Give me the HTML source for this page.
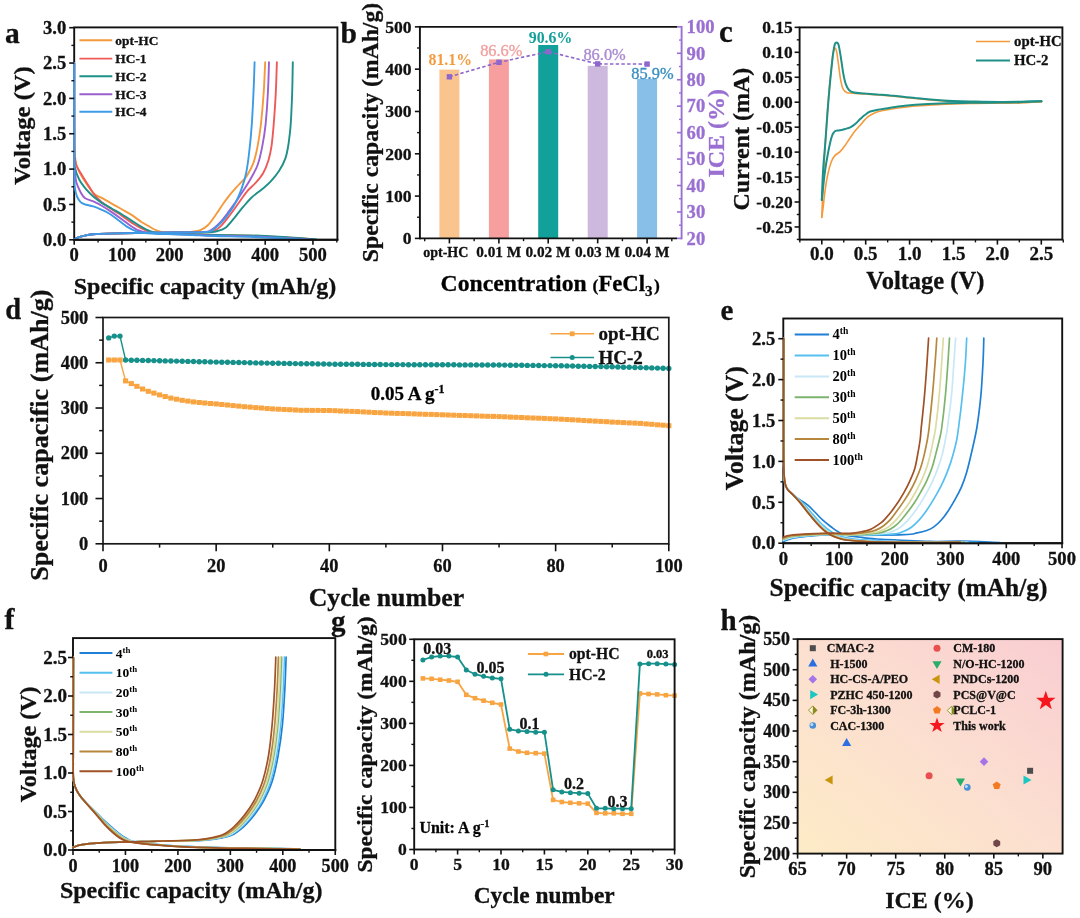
<!DOCTYPE html>
<html><head><meta charset="utf-8"><title>Figure</title>
<style>html,body{margin:0;padding:0;background:#fff;overflow:hidden}svg{display:block}</style></head>
<body>
<svg width="1080" height="918" viewBox="0 0 1080 918" font-family='"Liberation Serif", "DejaVu Serif", serif' font-weight="bold">
<rect width="1080" height="918" fill="#fff"/>
<g id="pa">
<clipPath id="ca"><rect x="72.2" y="27.4" width="264.2" height="213.0"/></clipPath>
<rect x="74.20" y="27.40" width="263.20" height="212.40" fill="none" stroke="#111" stroke-width="1.9"/>
<g clip-path="url(#ca)">
<path d="M74.2,63.0 C74.2,74.9 74.2,118.3 74.3,134.2 C74.5,150.0 74.7,152.8 75.2,158.2 C75.6,163.7 75.9,163.7 77.0,166.7 C78.2,169.8 79.3,172.3 82.0,176.7 C84.7,181.0 90.0,189.4 93.3,192.9 C96.6,196.5 98.8,196.1 101.8,197.9 C104.9,199.7 108.4,201.7 111.7,203.6 C115.0,205.5 118.4,207.3 121.7,209.2 C125.0,211.1 128.3,212.8 131.6,214.9 C134.9,217.0 138.4,220.0 141.5,222.0 C144.6,224.0 147.2,225.4 150.0,226.9 C152.8,228.5 155.7,230.2 158.5,231.2 C161.3,232.2 164.2,232.5 167.0,232.9 C169.8,233.3 171.2,233.2 175.5,233.5 C179.7,233.7 185.9,233.9 192.5,234.2 C199.1,234.4 205.4,234.8 215.0,235.0 C224.6,235.3 237.5,235.2 250.0,235.6 C262.5,236.0 279.5,237.0 290.0,237.6 C300.5,238.2 309.2,238.9 313.0,239.2" fill="none" stroke="#F59A3C" stroke-width="1.9" stroke-linejoin="round" stroke-linecap="round" />
<path d="M74.4,239.2 C75.2,238.8 77.1,237.8 79.0,237.1 C80.9,236.4 83.7,235.8 86.0,235.3 C88.3,234.8 89.5,234.6 93.0,234.3 C96.5,234.0 99.8,233.8 107.0,233.6 C114.2,233.4 124.2,233.2 136.0,233.0 C147.8,232.8 168.7,232.7 178.0,232.5 C187.3,232.3 188.1,232.1 191.9,231.7 C195.6,231.3 197.7,231.3 200.4,230.2 C203.0,229.1 205.3,227.7 207.8,225.3 C210.3,222.9 212.6,219.5 215.2,215.7 C217.9,212.0 221.3,206.5 223.7,203.0 C226.2,199.5 228.0,197.2 230.1,194.5 C232.2,191.8 234.6,189.2 236.5,187.1 C238.4,184.9 240.0,183.7 241.8,181.7 C243.6,179.8 245.2,178.6 247.1,175.4 C249.1,172.2 251.7,167.6 253.5,162.6 C255.3,157.7 256.5,152.0 257.7,145.6 C259.0,139.2 259.9,133.2 260.9,124.4 C261.9,115.5 263.0,102.8 263.7,92.5 C264.4,82.2 264.9,67.4 265.2,62.3" fill="none" stroke="#F59A3C" stroke-width="1.9" stroke-linejoin="round" stroke-linecap="round" />
<path d="M74.2,63.0 C74.2,77.2 74.2,132.5 74.3,148.3 C74.5,164.2 74.5,155.3 74.9,158.2 C75.3,161.2 75.4,163.2 76.6,166.0 C77.8,168.9 79.9,171.8 82.0,175.2 C84.1,178.7 87.0,183.3 89.1,186.6 C91.2,189.9 92.6,192.5 94.7,195.1 C96.9,197.7 99.0,199.8 101.8,202.2 C104.7,204.5 108.4,207.0 111.7,209.2 C115.0,211.5 118.4,213.4 121.7,215.6 C125.0,217.9 128.3,220.6 131.6,222.7 C134.9,224.8 138.4,226.8 141.5,228.4 C144.6,229.9 147.2,231.1 150.0,231.9 C152.8,232.7 154.7,233.0 158.5,233.3 C162.3,233.6 167.0,233.7 172.6,233.9 C178.3,234.1 185.4,234.2 192.5,234.4 C199.5,234.7 205.4,235.2 215.0,235.4 C224.6,235.7 237.5,235.6 250.0,236.0 C262.5,236.4 279.7,237.4 290.0,238.0 C300.3,238.6 308.3,239.1 312.0,239.3" fill="none" stroke="#EE5A5A" stroke-width="1.9" stroke-linejoin="round" stroke-linecap="round" />
<path d="M74.4,239.2 C75.2,238.8 77.1,237.8 79.0,237.1 C80.9,236.4 83.7,235.8 86.0,235.3 C88.3,234.8 89.5,234.6 93.0,234.3 C96.5,234.0 99.8,233.8 107.0,233.6 C114.2,233.4 124.2,233.2 136.0,233.0 C147.8,232.8 165.9,232.7 178.0,232.5 C190.1,232.3 202.7,232.3 208.9,231.9 C215.1,231.5 213.1,231.3 215.2,230.2 C217.4,229.1 219.1,227.9 221.6,225.3 C224.1,222.7 227.3,218.4 230.1,214.7 C233.0,211.0 235.8,206.9 238.6,203.0 C241.5,199.1 244.3,194.7 247.1,191.3 C250.0,187.9 253.0,185.8 255.6,182.8 C258.3,179.8 260.9,177.0 263.1,173.2 C265.2,169.5 267.0,165.1 268.4,160.5 C269.8,155.9 270.7,151.6 271.6,145.6 C272.4,139.6 273.0,133.2 273.7,124.4 C274.4,115.5 275.3,102.8 275.8,92.5 C276.3,82.2 276.7,67.4 276.9,62.3" fill="none" stroke="#EE5A5A" stroke-width="1.9" stroke-linejoin="round" stroke-linecap="round" />
<path d="M74.2,63.0 C74.2,78.4 74.2,138.0 74.3,155.4 C74.5,172.8 74.1,163.4 74.9,167.5 C75.7,171.5 77.3,175.8 79.2,179.5 C81.1,183.1 83.9,186.6 86.2,189.4 C88.6,192.2 90.7,194.2 93.3,196.5 C95.9,198.7 98.8,200.9 101.8,202.9 C104.9,204.9 108.4,206.6 111.7,208.5 C115.0,210.4 118.4,212.2 121.7,214.2 C125.0,216.2 128.3,218.4 131.6,220.6 C134.9,222.7 138.4,225.2 141.5,226.9 C144.6,228.7 147.2,230.2 150.0,231.2 C152.8,232.2 155.2,232.6 158.5,233.0 C161.8,233.4 164.2,233.4 169.8,233.6 C175.5,233.8 184.9,233.9 192.5,234.2 C200.0,234.4 205.4,234.8 215.0,235.0 C224.6,235.2 237.5,235.0 250.0,235.4 C262.5,235.8 279.0,236.8 290.0,237.4 C301.0,238.1 311.7,239.0 316.0,239.3" fill="none" stroke="#1E9088" stroke-width="1.9" stroke-linejoin="round" stroke-linecap="round" />
<path d="M74.4,239.2 C75.2,238.8 77.1,237.8 79.0,237.1 C80.9,236.4 83.7,235.8 86.0,235.3 C88.3,234.8 89.5,234.6 93.0,234.3 C96.5,234.0 99.8,233.8 107.0,233.6 C114.2,233.4 124.2,233.2 136.0,233.0 C147.8,232.8 165.5,232.6 178.0,232.5 C190.5,232.4 204.4,232.4 211.0,232.1 C217.6,231.9 214.9,231.8 217.4,231.0 C219.9,230.3 223.0,229.6 225.9,227.4 C228.7,225.2 231.5,221.2 234.4,217.9 C237.2,214.5 240.0,210.6 242.9,207.2 C245.7,203.9 248.2,200.7 251.4,197.7 C254.6,194.7 258.8,191.8 262.0,189.2 C265.2,186.5 267.7,184.8 270.5,181.7 C273.3,178.7 276.5,175.0 279.0,171.1 C281.5,167.2 283.8,163.0 285.4,158.4 C287.0,153.8 287.7,149.2 288.6,143.5 C289.4,137.8 290.1,132.9 290.7,124.4 C291.3,115.9 291.8,102.8 292.2,92.5 C292.5,82.2 292.7,67.4 292.8,62.3" fill="none" stroke="#1E9088" stroke-width="1.9" stroke-linejoin="round" stroke-linecap="round" />
<path d="M74.2,63.0 C74.2,79.6 74.2,144.5 74.3,162.5 C74.5,180.5 74.6,167.7 74.9,171.0 C75.2,174.3 75.4,178.8 76.3,182.3 C77.3,185.9 79.2,189.6 80.6,192.2 C82.0,194.8 82.7,196.4 84.8,197.9 C87.0,199.4 90.5,200.1 93.3,201.4 C96.2,202.7 98.8,203.9 101.8,205.7 C104.9,207.5 108.4,209.8 111.7,212.1 C115.0,214.3 118.6,216.9 121.7,219.2 C124.7,221.4 127.3,223.6 130.2,225.5 C133.0,227.4 135.8,229.3 138.7,230.5 C141.5,231.7 143.8,232.1 147.2,232.6 C150.5,233.1 154.2,233.2 158.5,233.5 C162.7,233.7 167.0,233.8 172.6,234.0 C178.3,234.2 185.4,234.4 192.5,234.7 C199.5,235.0 205.4,235.4 215.0,235.7 C224.6,236.0 237.5,236.0 250.0,236.4 C262.5,236.8 280.0,237.8 290.0,238.3 C300.0,238.8 306.7,239.2 310.0,239.4" fill="none" stroke="#9B5FD0" stroke-width="1.9" stroke-linejoin="round" stroke-linecap="round" />
<path d="M74.4,239.2 C75.2,238.8 77.1,237.8 79.0,237.1 C80.9,236.4 83.7,235.8 86.0,235.3 C88.3,234.8 89.5,234.6 93.0,234.3 C96.5,234.0 99.8,233.8 107.0,233.6 C114.2,233.4 124.2,233.2 136.0,233.0 C147.8,232.8 166.6,232.7 178.0,232.5 C189.4,232.3 199.1,232.3 204.6,231.9 C210.1,231.5 208.5,231.6 211.0,230.2 C213.5,228.7 216.7,226.1 219.5,223.2 C222.3,220.2 225.2,216.3 228.0,212.6 C230.8,208.8 233.7,204.9 236.5,200.9 C239.3,196.8 242.5,192.0 245.0,188.1 C247.5,184.2 249.2,181.4 251.4,177.5 C253.5,173.6 255.9,170.1 257.7,164.7 C259.6,159.4 261.1,152.4 262.4,145.6 C263.7,138.9 264.7,133.2 265.6,124.4 C266.5,115.5 267.4,102.8 267.9,92.5 C268.5,82.2 268.8,67.4 269.0,62.3" fill="none" stroke="#9B5FD0" stroke-width="1.9" stroke-linejoin="round" stroke-linecap="round" />
<path d="M74.2,63.0 C74.2,81.5 74.2,153.0 74.3,173.8 C74.5,194.7 74.5,184.2 74.9,188.0 C75.4,191.8 76.1,194.1 77.0,196.5 C78.0,198.8 79.3,200.9 80.6,202.2 C81.9,203.5 82.7,203.6 84.8,204.3 C87.0,205.0 90.5,205.5 93.3,206.4 C96.2,207.3 99.0,208.6 101.8,209.9 C104.7,211.2 107.5,212.4 110.3,214.2 C113.2,216.0 116.0,218.4 118.8,220.6 C121.7,222.7 124.5,225.2 127.3,226.9 C130.2,228.7 133.0,230.2 135.8,231.2 C138.7,232.2 141.0,232.6 144.3,233.0 C147.6,233.5 150.9,233.5 155.7,233.7 C160.4,234.0 166.5,234.1 172.6,234.3 C178.8,234.5 185.4,234.7 192.5,235.0 C199.5,235.3 205.4,235.7 215.0,236.0 C224.6,236.3 237.5,236.4 250.0,236.8 C262.5,237.2 280.7,238.2 290.0,238.6 C299.3,239.0 303.3,239.3 306.0,239.4" fill="none" stroke="#3C9BE6" stroke-width="1.9" stroke-linejoin="round" stroke-linecap="round" />
<path d="M74.4,239.2 C75.2,238.8 77.1,237.8 79.0,237.1 C80.9,236.4 83.7,235.8 86.0,235.3 C88.3,234.8 89.5,234.6 93.0,234.3 C96.5,234.0 99.8,233.8 107.0,233.6 C114.2,233.4 124.2,233.2 136.0,233.0 C147.8,232.8 166.2,232.7 178.0,232.5 C189.8,232.3 200.9,232.4 206.7,231.9 C212.6,231.4 210.6,231.2 213.1,229.6 C215.6,227.9 218.8,225.1 221.6,222.1 C224.5,219.1 227.6,215.0 230.1,211.5 C232.6,208.0 234.6,204.8 236.5,200.9 C238.4,197.0 240.2,192.7 241.8,188.1 C243.4,183.5 244.8,179.3 246.1,173.2 C247.3,167.2 248.3,160.1 249.2,152.0 C250.2,143.9 251.1,134.3 251.8,124.4 C252.5,114.5 253.0,102.8 253.5,92.5 C254.0,82.2 254.4,67.4 254.6,62.3" fill="none" stroke="#3C9BE6" stroke-width="1.9" stroke-linejoin="round" stroke-linecap="round" />
</g>
<line x1="73.25" y1="239.80" x2="338.35" y2="239.80" stroke="#111" stroke-width="1.9"/>
<line x1="74.20" y1="239.80" x2="74.20" y2="244.80" stroke="#111" stroke-width="1.6"/>
<text x="74.2" y="261.1" font-size="18.6" text-anchor="middle" fill="#111" font-weight="bold" stroke="#111" stroke-width="0.3" >0</text>
<line x1="121.95" y1="239.80" x2="121.95" y2="244.80" stroke="#111" stroke-width="1.6"/>
<text x="122.0" y="261.1" font-size="18.6" text-anchor="middle" fill="#111" font-weight="bold" stroke="#111" stroke-width="0.3" >100</text>
<line x1="169.70" y1="239.80" x2="169.70" y2="244.80" stroke="#111" stroke-width="1.6"/>
<text x="169.7" y="261.1" font-size="18.6" text-anchor="middle" fill="#111" font-weight="bold" stroke="#111" stroke-width="0.3" >200</text>
<line x1="217.45" y1="239.80" x2="217.45" y2="244.80" stroke="#111" stroke-width="1.6"/>
<text x="217.4" y="261.1" font-size="18.6" text-anchor="middle" fill="#111" font-weight="bold" stroke="#111" stroke-width="0.3" >300</text>
<line x1="265.20" y1="239.80" x2="265.20" y2="244.80" stroke="#111" stroke-width="1.6"/>
<text x="265.2" y="261.1" font-size="18.6" text-anchor="middle" fill="#111" font-weight="bold" stroke="#111" stroke-width="0.3" >400</text>
<line x1="312.95" y1="239.80" x2="312.95" y2="244.80" stroke="#111" stroke-width="1.6"/>
<text x="312.9" y="261.1" font-size="18.6" text-anchor="middle" fill="#111" font-weight="bold" stroke="#111" stroke-width="0.3" >500</text>
<line x1="98.08" y1="239.80" x2="98.08" y2="242.60" stroke="#111" stroke-width="1.4"/>
<line x1="145.82" y1="239.80" x2="145.82" y2="242.60" stroke="#111" stroke-width="1.4"/>
<line x1="193.57" y1="239.80" x2="193.57" y2="242.60" stroke="#111" stroke-width="1.4"/>
<line x1="241.32" y1="239.80" x2="241.32" y2="242.60" stroke="#111" stroke-width="1.4"/>
<line x1="289.07" y1="239.80" x2="289.07" y2="242.60" stroke="#111" stroke-width="1.4"/>
<line x1="336.82" y1="239.80" x2="336.82" y2="242.60" stroke="#111" stroke-width="1.4"/>
<line x1="74.20" y1="239.80" x2="69.20" y2="239.80" stroke="#111" stroke-width="1.6"/>
<text x="66.2" y="246.0" font-size="18.6" text-anchor="end" fill="#111" font-weight="bold" stroke="#111" stroke-width="0.3" >0.0</text>
<line x1="74.20" y1="204.45" x2="69.20" y2="204.45" stroke="#111" stroke-width="1.6"/>
<text x="66.2" y="210.7" font-size="18.6" text-anchor="end" fill="#111" font-weight="bold" stroke="#111" stroke-width="0.3" >0.5</text>
<line x1="74.20" y1="169.10" x2="69.20" y2="169.10" stroke="#111" stroke-width="1.6"/>
<text x="66.2" y="175.3" font-size="18.6" text-anchor="end" fill="#111" font-weight="bold" stroke="#111" stroke-width="0.3" >1.0</text>
<line x1="74.20" y1="133.75" x2="69.20" y2="133.75" stroke="#111" stroke-width="1.6"/>
<text x="66.2" y="140.0" font-size="18.6" text-anchor="end" fill="#111" font-weight="bold" stroke="#111" stroke-width="0.3" >1.5</text>
<line x1="74.20" y1="98.40" x2="69.20" y2="98.40" stroke="#111" stroke-width="1.6"/>
<text x="66.2" y="104.6" font-size="18.6" text-anchor="end" fill="#111" font-weight="bold" stroke="#111" stroke-width="0.3" >2.0</text>
<line x1="74.20" y1="63.05" x2="69.20" y2="63.05" stroke="#111" stroke-width="1.6"/>
<text x="66.2" y="69.3" font-size="18.6" text-anchor="end" fill="#111" font-weight="bold" stroke="#111" stroke-width="0.3" >2.5</text>
<line x1="74.20" y1="27.70" x2="69.20" y2="27.70" stroke="#111" stroke-width="1.6"/>
<text x="66.2" y="33.9" font-size="18.6" text-anchor="end" fill="#111" font-weight="bold" stroke="#111" stroke-width="0.3" >3.0</text>
<line x1="74.20" y1="222.12" x2="71.40" y2="222.12" stroke="#111" stroke-width="1.4"/>
<line x1="74.20" y1="186.78" x2="71.40" y2="186.78" stroke="#111" stroke-width="1.4"/>
<line x1="74.20" y1="151.43" x2="71.40" y2="151.43" stroke="#111" stroke-width="1.4"/>
<line x1="74.20" y1="116.08" x2="71.40" y2="116.08" stroke="#111" stroke-width="1.4"/>
<line x1="74.20" y1="80.72" x2="71.40" y2="80.72" stroke="#111" stroke-width="1.4"/>
<line x1="74.20" y1="45.38" x2="71.40" y2="45.38" stroke="#111" stroke-width="1.4"/>
<text x="205.0" y="294.0" font-size="24" text-anchor="middle" fill="#111" font-weight="bold" stroke="#111" stroke-width="0.3" >Specific capacity (mAh/g)</text>
<text transform="translate(29.5,125.5) rotate(-90) scale(1.0638,1)" font-size="23.12" text-anchor="middle" fill="#111" font-weight="bold" stroke="#111" stroke-width="0.3">Voltage (V)</text>
<text x="5.0" y="43.0" font-size="29.5" text-anchor="start" fill="#111" font-weight="bold" stroke="#111" stroke-width="0.3" >a</text>
<line x1="79.40" y1="40.20" x2="112.30" y2="40.20" stroke="#F59A3C" stroke-width="1.9"/>
<text x="115.3" y="44.6" font-size="13.4" text-anchor="start" fill="#111" font-weight="bold" stroke="#111" stroke-width="0.3" >opt-HC</text>
<line x1="79.40" y1="58.60" x2="112.30" y2="58.60" stroke="#EE5A5A" stroke-width="1.9"/>
<text x="115.3" y="63.0" font-size="13.4" text-anchor="start" fill="#111" font-weight="bold" stroke="#111" stroke-width="0.3" >HC-1</text>
<line x1="79.40" y1="76.30" x2="112.30" y2="76.30" stroke="#1E9088" stroke-width="1.9"/>
<text x="115.3" y="80.7" font-size="13.4" text-anchor="start" fill="#111" font-weight="bold" stroke="#111" stroke-width="0.3" >HC-2</text>
<line x1="79.40" y1="94.20" x2="112.30" y2="94.20" stroke="#9B5FD0" stroke-width="1.9"/>
<text x="115.3" y="98.6" font-size="13.4" text-anchor="start" fill="#111" font-weight="bold" stroke="#111" stroke-width="0.3" >HC-3</text>
<line x1="79.40" y1="111.80" x2="112.30" y2="111.80" stroke="#3C9BE6" stroke-width="1.9"/>
<text x="115.3" y="116.2" font-size="13.4" text-anchor="start" fill="#111" font-weight="bold" stroke="#111" stroke-width="0.3" >HC-4</text>
</g>
<g id="pb">
<rect x="439.4" y="69.6" width="20" height="168.8" fill="#FAC48E"/>
<rect x="488.9" y="59.4" width="20" height="179.0" fill="#F79E9E"/>
<rect x="538.2" y="45.0" width="20" height="193.4" fill="#12A19A"/>
<rect x="587.7" y="65.8" width="20" height="172.6" fill="#CDB9DD"/>
<rect x="637.1" y="78.9" width="20" height="159.5" fill="#88BFE8"/>
<line x1="419.90" y1="25.90" x2="419.90" y2="239.35" stroke="#111" stroke-width="1.9"/>
<line x1="419.90" y1="26.85" x2="677.10" y2="26.85" stroke="#111" stroke-width="1.9"/>
<line x1="419.90" y1="238.40" x2="677.10" y2="238.40" stroke="#111" stroke-width="1.9"/>
<line x1="681.60" y1="25.90" x2="681.60" y2="239.35" stroke="#9A6FD2" stroke-width="1.9"/>
<polyline points="449.4,76.8 498.9,62.3 548.2,51.7 597.7,63.9 647.1,64.1" fill="none" stroke="#8F66CC" stroke-width="1.6" stroke-linejoin="round" stroke-dasharray="3.4,2.3"/>
<rect x="446.7" y="74.1" width="5.4" height="5.4" fill="#8F66CC"/>
<rect x="496.2" y="59.6" width="5.4" height="5.4" fill="#8F66CC"/>
<rect x="545.5" y="49.0" width="5.4" height="5.4" fill="#8F66CC"/>
<rect x="595.0" y="61.2" width="5.4" height="5.4" fill="#8F66CC"/>
<rect x="644.4" y="61.4" width="5.4" height="5.4" fill="#8F66CC"/>
<text x="450.3" y="64.9" font-size="15.8" text-anchor="middle" fill="#F59A3C" font-weight="bold" >81.1%</text>
<text x="501.3" y="55.6" font-size="16.4" text-anchor="middle" fill="#F2A0A0" font-weight="normal" stroke="#F2A0A0" stroke-width="0.35" >86.6%</text>
<text x="550.5" y="42.9" font-size="15.8" text-anchor="middle" fill="#12A19A" font-weight="bold" >90.6%</text>
<text x="604.6" y="59.9" font-size="16.4" text-anchor="middle" fill="#A98AD0" font-weight="normal" stroke="#A98AD0" stroke-width="0.35" >86.0%</text>
<text x="652.4" y="79.0" font-size="16.4" text-anchor="middle" fill="#3A8FC2" font-weight="normal" stroke="#3A8FC2" stroke-width="0.35" >85.9%</text>
<line x1="419.90" y1="238.40" x2="414.90" y2="238.40" stroke="#111" stroke-width="1.6"/>
<text x="411.6" y="244.3" font-size="17.6" text-anchor="end" fill="#111" font-weight="bold" stroke="#111" stroke-width="0.3" >0</text>
<line x1="419.90" y1="196.09" x2="414.90" y2="196.09" stroke="#111" stroke-width="1.6"/>
<text x="411.6" y="202.0" font-size="17.6" text-anchor="end" fill="#111" font-weight="bold" stroke="#111" stroke-width="0.3" >100</text>
<line x1="419.90" y1="153.78" x2="414.90" y2="153.78" stroke="#111" stroke-width="1.6"/>
<text x="411.6" y="159.7" font-size="17.6" text-anchor="end" fill="#111" font-weight="bold" stroke="#111" stroke-width="0.3" >200</text>
<line x1="419.90" y1="111.47" x2="414.90" y2="111.47" stroke="#111" stroke-width="1.6"/>
<text x="411.6" y="117.4" font-size="17.6" text-anchor="end" fill="#111" font-weight="bold" stroke="#111" stroke-width="0.3" >300</text>
<line x1="419.90" y1="69.16" x2="414.90" y2="69.16" stroke="#111" stroke-width="1.6"/>
<text x="411.6" y="75.1" font-size="17.6" text-anchor="end" fill="#111" font-weight="bold" stroke="#111" stroke-width="0.3" >400</text>
<line x1="419.90" y1="26.85" x2="414.90" y2="26.85" stroke="#111" stroke-width="1.6"/>
<text x="411.6" y="32.7" font-size="17.6" text-anchor="end" fill="#111" font-weight="bold" stroke="#111" stroke-width="0.3" >500</text>
<line x1="419.90" y1="217.25" x2="417.10" y2="217.25" stroke="#111" stroke-width="1.4"/>
<line x1="419.90" y1="174.94" x2="417.10" y2="174.94" stroke="#111" stroke-width="1.4"/>
<line x1="419.90" y1="132.62" x2="417.10" y2="132.62" stroke="#111" stroke-width="1.4"/>
<line x1="419.90" y1="90.31" x2="417.10" y2="90.31" stroke="#111" stroke-width="1.4"/>
<line x1="419.90" y1="48.00" x2="417.10" y2="48.00" stroke="#111" stroke-width="1.4"/>
<line x1="681.60" y1="238.40" x2="677.00" y2="238.40" stroke="#9A6FD2" stroke-width="1.6"/>
<text x="686.6" y="244.6" font-size="18.6" text-anchor="start" fill="#9A6FD2" font-weight="bold" stroke="#9A6FD2" stroke-width="0.3" >20</text>
<line x1="681.60" y1="211.96" x2="677.00" y2="211.96" stroke="#9A6FD2" stroke-width="1.6"/>
<text x="686.6" y="218.2" font-size="18.6" text-anchor="start" fill="#9A6FD2" font-weight="bold" stroke="#9A6FD2" stroke-width="0.3" >30</text>
<line x1="681.60" y1="185.51" x2="677.00" y2="185.51" stroke="#9A6FD2" stroke-width="1.6"/>
<text x="686.6" y="191.7" font-size="18.6" text-anchor="start" fill="#9A6FD2" font-weight="bold" stroke="#9A6FD2" stroke-width="0.3" >40</text>
<line x1="681.60" y1="159.07" x2="677.00" y2="159.07" stroke="#9A6FD2" stroke-width="1.6"/>
<text x="686.6" y="165.3" font-size="18.6" text-anchor="start" fill="#9A6FD2" font-weight="bold" stroke="#9A6FD2" stroke-width="0.3" >50</text>
<line x1="681.60" y1="132.62" x2="677.00" y2="132.62" stroke="#9A6FD2" stroke-width="1.6"/>
<text x="686.6" y="138.9" font-size="18.6" text-anchor="start" fill="#9A6FD2" font-weight="bold" stroke="#9A6FD2" stroke-width="0.3" >60</text>
<line x1="681.60" y1="106.18" x2="677.00" y2="106.18" stroke="#9A6FD2" stroke-width="1.6"/>
<text x="686.6" y="112.4" font-size="18.6" text-anchor="start" fill="#9A6FD2" font-weight="bold" stroke="#9A6FD2" stroke-width="0.3" >70</text>
<line x1="681.60" y1="79.74" x2="677.00" y2="79.74" stroke="#9A6FD2" stroke-width="1.6"/>
<text x="686.6" y="86.0" font-size="18.6" text-anchor="start" fill="#9A6FD2" font-weight="bold" stroke="#9A6FD2" stroke-width="0.3" >80</text>
<line x1="681.60" y1="53.29" x2="677.00" y2="53.29" stroke="#9A6FD2" stroke-width="1.6"/>
<text x="686.6" y="59.5" font-size="18.6" text-anchor="start" fill="#9A6FD2" font-weight="bold" stroke="#9A6FD2" stroke-width="0.3" >90</text>
<line x1="681.60" y1="26.85" x2="677.00" y2="26.85" stroke="#9A6FD2" stroke-width="1.6"/>
<text x="686.6" y="33.1" font-size="18.6" text-anchor="start" fill="#9A6FD2" font-weight="bold" stroke="#9A6FD2" stroke-width="0.3" >100</text>
<line x1="681.60" y1="225.18" x2="679.00" y2="225.18" stroke="#9A6FD2" stroke-width="1.4"/>
<line x1="681.60" y1="198.73" x2="679.00" y2="198.73" stroke="#9A6FD2" stroke-width="1.4"/>
<line x1="681.60" y1="172.29" x2="679.00" y2="172.29" stroke="#9A6FD2" stroke-width="1.4"/>
<line x1="681.60" y1="145.85" x2="679.00" y2="145.85" stroke="#9A6FD2" stroke-width="1.4"/>
<line x1="681.60" y1="119.40" x2="679.00" y2="119.40" stroke="#9A6FD2" stroke-width="1.4"/>
<line x1="681.60" y1="92.96" x2="679.00" y2="92.96" stroke="#9A6FD2" stroke-width="1.4"/>
<line x1="681.60" y1="66.52" x2="679.00" y2="66.52" stroke="#9A6FD2" stroke-width="1.4"/>
<line x1="681.60" y1="40.07" x2="679.00" y2="40.07" stroke="#9A6FD2" stroke-width="1.4"/>
<line x1="449.40" y1="238.40" x2="449.40" y2="243.40" stroke="#111" stroke-width="1.6"/>
<line x1="498.90" y1="238.40" x2="498.90" y2="243.40" stroke="#111" stroke-width="1.6"/>
<line x1="548.20" y1="238.40" x2="548.20" y2="243.40" stroke="#111" stroke-width="1.6"/>
<line x1="597.70" y1="238.40" x2="597.70" y2="243.40" stroke="#111" stroke-width="1.6"/>
<line x1="647.10" y1="238.40" x2="647.10" y2="243.40" stroke="#111" stroke-width="1.6"/>
<line x1="474.15" y1="238.40" x2="474.15" y2="241.20" stroke="#111" stroke-width="1.4"/>
<line x1="523.55" y1="238.40" x2="523.55" y2="241.20" stroke="#111" stroke-width="1.4"/>
<line x1="572.95" y1="238.40" x2="572.95" y2="241.20" stroke="#111" stroke-width="1.4"/>
<line x1="622.40" y1="238.40" x2="622.40" y2="241.20" stroke="#111" stroke-width="1.4"/>
<line x1="424.70" y1="238.40" x2="424.70" y2="241.20" stroke="#111" stroke-width="1.4"/>
<line x1="671.80" y1="238.40" x2="671.80" y2="241.20" stroke="#111" stroke-width="1.4"/>
<text x="445.8" y="256.7" font-size="14" text-anchor="middle" fill="#111" font-weight="bold" stroke="#111" stroke-width="0.3" >opt-HC</text>
<text x="498.7" y="257.0" font-size="15.3" text-anchor="middle" fill="#111" font-weight="bold" stroke="#111" stroke-width="0.3" >0.01 M</text>
<text x="548.0" y="257.0" font-size="15.3" text-anchor="middle" fill="#111" font-weight="bold" stroke="#111" stroke-width="0.3" >0.02 M</text>
<text x="597.5" y="257.0" font-size="15.3" text-anchor="middle" fill="#111" font-weight="bold" stroke="#111" stroke-width="0.3" >0.03 M</text>
<text x="646.9" y="257.0" font-size="15.3" text-anchor="middle" fill="#111" font-weight="bold" stroke="#111" stroke-width="0.3" >0.04 M</text>
<text x="440.6" y="290.7" font-size="23.7" stroke="#111" stroke-width="0.3">Concentration <tspan font-size="17.5">(</tspan><tspan font-size="22.7">FeCl</tspan><tspan font-size="15" dy="5.5">3</tspan><tspan font-size="17.5" dy="-5.5" dx="1.5">)</tspan></text>
<text transform="translate(377.6,132.5) rotate(-90) scale(1.0638,1)" font-size="22.28" text-anchor="middle" fill="#111" font-weight="bold" stroke="#111" stroke-width="0.3">Specific capacity (mAh/g)</text>
<text transform="translate(724.2,133.3) rotate(-90) scale(1.0638,1)" font-size="22.56" text-anchor="middle" fill="#9A6FD2" font-weight="bold" stroke="#9A6FD2" stroke-width="0.3">ICE (%)</text>
<text x="340.5" y="42.5" font-size="29.5" text-anchor="start" fill="#111" font-weight="bold" stroke="#111" stroke-width="0.3" >b</text>
</g>
<g id="pc">
<path d="M821.8,217.5 C822.0,213.0 822.4,200.8 822.8,190.5 C823.3,180.1 823.7,170.0 824.6,155.4 C825.5,140.7 826.9,118.2 828.1,102.7 C829.3,87.3 830.9,71.4 831.9,62.6 C832.8,53.8 833.3,52.5 833.9,50.1 C834.4,47.7 834.7,47.9 835.1,48.1 C835.6,48.3 836.0,48.5 836.6,51.3 C837.2,54.2 837.9,60.1 838.6,65.1 C839.3,70.1 840.1,77.3 840.9,81.4 C841.7,85.5 842.4,87.8 843.4,89.7 C844.4,91.6 845.2,92.1 847.2,92.7 C849.1,93.3 852.2,93.2 855.2,93.5 C858.2,93.7 861.4,93.7 865.2,94.0 C869.0,94.2 873.6,94.6 877.7,95.0 C881.9,95.3 886.1,95.6 890.3,96.0 C894.5,96.3 898.6,96.8 902.8,97.2 C907.0,97.6 911.2,98.0 915.3,98.5 C919.5,98.9 923.7,99.3 927.9,99.7 C932.1,100.1 936.2,100.4 940.4,100.7 C944.6,101.0 948.0,101.3 952.9,101.5 C957.9,101.7 966.3,101.9 970.0,102.0 C973.7,102.1 970.0,102.1 975.0,102.2 C980.0,102.3 992.5,102.4 1000.0,102.4 C1007.5,102.4 1013.1,102.3 1020.0,102.2 C1026.9,102.1 1037.9,101.9 1041.5,101.8" fill="none" stroke="#F59A3C" stroke-width="1.6" stroke-linejoin="round" stroke-linecap="round" />
<path d="M1041.5,101.8 C1037.9,102.0 1026.9,102.8 1020.0,103.0 C1013.1,103.2 1007.5,103.1 1000.0,103.2 C992.5,103.3 980.0,103.4 975.0,103.4 C970.0,103.4 975.8,103.3 970.0,103.5 C964.2,103.7 949.5,104.1 940.4,104.5 C931.3,104.9 923.7,105.2 915.3,106.0 C907.0,106.8 896.5,108.3 890.3,109.2 C884.0,110.2 881.1,110.7 877.7,111.8 C874.4,112.8 872.3,114.0 870.2,115.3 C868.1,116.5 866.9,117.6 865.2,119.3 C863.5,120.9 861.9,123.4 860.2,125.3 C858.5,127.2 856.9,128.7 855.2,130.8 C853.5,132.9 851.8,135.4 850.2,137.8 C848.5,140.2 846.8,143.0 845.2,145.3 C843.5,147.6 841.8,149.9 840.1,151.6 C838.5,153.3 836.6,153.7 835.1,155.4 C833.7,157.0 832.6,158.3 831.4,161.6 C830.1,165.0 828.6,170.6 827.6,175.4 C826.6,180.2 825.8,185.0 825.1,190.5 C824.3,195.9 823.6,203.5 823.1,208.0 C822.5,212.5 822.0,216.0 821.8,217.5" fill="none" stroke="#F59A3C" stroke-width="1.6" stroke-linejoin="round" stroke-linecap="round" />
<path d="M821.8,200.0 C822.0,195.1 822.5,179.5 823.1,170.4 C823.6,161.3 824.1,157.9 825.1,145.3 C826.1,132.8 827.6,109.8 828.9,95.2 C830.1,80.6 831.7,66.0 832.6,57.6 C833.6,49.2 834.0,47.6 834.6,45.1 C835.3,42.6 836.0,42.6 836.6,42.6 C837.3,42.6 837.9,42.6 838.6,45.1 C839.3,47.6 840.1,53.0 840.9,57.6 C841.6,62.2 842.4,68.3 843.1,72.6 C843.9,77.0 844.7,81.0 845.7,83.9 C846.7,86.9 847.8,88.8 849.2,90.2 C850.5,91.6 851.3,91.9 853.9,92.4 C856.6,93.0 861.2,93.1 865.2,93.5 C869.2,93.8 873.6,94.1 877.7,94.5 C881.9,94.8 886.1,95.1 890.3,95.5 C894.5,95.8 898.6,96.3 902.8,96.7 C907.0,97.1 911.2,97.5 915.3,98.0 C919.5,98.4 923.7,98.8 927.9,99.2 C932.1,99.6 936.2,99.9 940.4,100.2 C944.6,100.5 948.0,100.8 952.9,101.0 C957.9,101.2 966.3,101.4 970.0,101.5 C973.7,101.6 970.0,101.5 975.0,101.6 C980.0,101.7 992.5,101.9 1000.0,101.9 C1007.5,101.9 1013.1,101.8 1020.0,101.7 C1026.9,101.6 1037.9,101.3 1041.5,101.2" fill="none" stroke="#1E9088" stroke-width="2.0" stroke-linejoin="round" stroke-linecap="round" />
<path d="M1041.5,101.2 C1037.9,101.4 1026.9,102.1 1020.0,102.3 C1013.1,102.5 1007.5,102.5 1000.0,102.6 C992.5,102.7 980.0,102.8 975.0,102.8 C970.0,102.8 975.8,102.6 970.0,102.7 C964.2,102.8 949.5,103.1 940.4,103.5 C931.3,103.8 921.6,104.3 915.3,104.7 C909.1,105.2 907.0,105.5 902.8,106.0 C898.6,106.5 894.5,107.1 890.3,107.7 C886.1,108.4 881.1,109.1 877.7,109.7 C874.4,110.4 872.3,110.7 870.2,111.5 C868.1,112.3 866.9,113.5 865.2,114.8 C863.5,116.0 861.9,117.5 860.2,119.0 C858.5,120.6 856.9,122.7 855.2,124.0 C853.5,125.4 851.8,126.5 850.2,127.3 C848.5,128.1 846.8,128.5 845.2,129.0 C843.5,129.6 841.6,130.1 840.1,130.3 C838.7,130.6 837.4,130.2 836.4,130.6 C835.3,130.9 834.7,131.1 833.9,132.3 C833.0,133.5 832.4,134.0 831.4,137.8 C830.3,141.7 828.6,149.9 827.6,155.4 C826.6,160.8 825.8,165.0 825.1,170.4 C824.3,175.8 823.6,183.0 823.1,188.0 C822.5,192.9 822.0,198.0 821.8,200.0" fill="none" stroke="#1E9088" stroke-width="2.0" stroke-linejoin="round" stroke-linecap="round" />
<rect x="799.60" y="27.40" width="262.80" height="212.20" fill="none" stroke="#111" stroke-width="1.9"/>
<line x1="821.80" y1="239.60" x2="821.80" y2="244.60" stroke="#111" stroke-width="1.6"/>
<text x="821.8" y="259.8" font-size="19" text-anchor="middle" fill="#111" font-weight="bold" stroke="#111" stroke-width="0.3" >0.0</text>
<line x1="865.70" y1="239.60" x2="865.70" y2="244.60" stroke="#111" stroke-width="1.6"/>
<text x="865.7" y="259.8" font-size="19" text-anchor="middle" fill="#111" font-weight="bold" stroke="#111" stroke-width="0.3" >0.5</text>
<line x1="909.60" y1="239.60" x2="909.60" y2="244.60" stroke="#111" stroke-width="1.6"/>
<text x="909.6" y="259.8" font-size="19" text-anchor="middle" fill="#111" font-weight="bold" stroke="#111" stroke-width="0.3" >1.0</text>
<line x1="953.50" y1="239.60" x2="953.50" y2="244.60" stroke="#111" stroke-width="1.6"/>
<text x="953.5" y="259.8" font-size="19" text-anchor="middle" fill="#111" font-weight="bold" stroke="#111" stroke-width="0.3" >1.5</text>
<line x1="997.40" y1="239.60" x2="997.40" y2="244.60" stroke="#111" stroke-width="1.6"/>
<text x="997.4" y="259.8" font-size="19" text-anchor="middle" fill="#111" font-weight="bold" stroke="#111" stroke-width="0.3" >2.0</text>
<line x1="1041.30" y1="239.60" x2="1041.30" y2="244.60" stroke="#111" stroke-width="1.6"/>
<text x="1041.3" y="259.8" font-size="19" text-anchor="middle" fill="#111" font-weight="bold" stroke="#111" stroke-width="0.3" >2.5</text>
<line x1="799.85" y1="239.60" x2="799.85" y2="242.40" stroke="#111" stroke-width="1.4"/>
<line x1="843.75" y1="239.60" x2="843.75" y2="242.40" stroke="#111" stroke-width="1.4"/>
<line x1="887.65" y1="239.60" x2="887.65" y2="242.40" stroke="#111" stroke-width="1.4"/>
<line x1="931.55" y1="239.60" x2="931.55" y2="242.40" stroke="#111" stroke-width="1.4"/>
<line x1="975.45" y1="239.60" x2="975.45" y2="242.40" stroke="#111" stroke-width="1.4"/>
<line x1="1019.35" y1="239.60" x2="1019.35" y2="242.40" stroke="#111" stroke-width="1.4"/>
<line x1="1063.25" y1="239.60" x2="1063.25" y2="242.40" stroke="#111" stroke-width="1.4"/>
<line x1="799.60" y1="27.35" x2="794.60" y2="27.35" stroke="#111" stroke-width="1.6"/>
<text x="792.6" y="33.2" font-size="17.4" text-anchor="end" fill="#111" font-weight="bold" stroke="#111" stroke-width="0.3" >0.15</text>
<line x1="799.60" y1="52.30" x2="794.60" y2="52.30" stroke="#111" stroke-width="1.6"/>
<text x="792.6" y="58.1" font-size="17.4" text-anchor="end" fill="#111" font-weight="bold" stroke="#111" stroke-width="0.3" >0.10</text>
<line x1="799.60" y1="77.25" x2="794.60" y2="77.25" stroke="#111" stroke-width="1.6"/>
<text x="792.6" y="83.1" font-size="17.4" text-anchor="end" fill="#111" font-weight="bold" stroke="#111" stroke-width="0.3" >0.05</text>
<line x1="799.60" y1="102.20" x2="794.60" y2="102.20" stroke="#111" stroke-width="1.6"/>
<text x="792.6" y="108.0" font-size="17.4" text-anchor="end" fill="#111" font-weight="bold" stroke="#111" stroke-width="0.3" >0.00</text>
<line x1="799.60" y1="127.15" x2="794.60" y2="127.15" stroke="#111" stroke-width="1.6"/>
<text x="792.6" y="133.0" font-size="17.4" text-anchor="end" fill="#111" font-weight="bold" stroke="#111" stroke-width="0.3" >-0.05</text>
<line x1="799.60" y1="152.10" x2="794.60" y2="152.10" stroke="#111" stroke-width="1.6"/>
<text x="792.6" y="157.9" font-size="17.4" text-anchor="end" fill="#111" font-weight="bold" stroke="#111" stroke-width="0.3" >-0.10</text>
<line x1="799.60" y1="177.05" x2="794.60" y2="177.05" stroke="#111" stroke-width="1.6"/>
<text x="792.6" y="182.9" font-size="17.4" text-anchor="end" fill="#111" font-weight="bold" stroke="#111" stroke-width="0.3" >-0.15</text>
<line x1="799.60" y1="202.00" x2="794.60" y2="202.00" stroke="#111" stroke-width="1.6"/>
<text x="792.6" y="207.8" font-size="17.4" text-anchor="end" fill="#111" font-weight="bold" stroke="#111" stroke-width="0.3" >-0.20</text>
<line x1="799.60" y1="226.95" x2="794.60" y2="226.95" stroke="#111" stroke-width="1.6"/>
<text x="792.6" y="232.8" font-size="17.4" text-anchor="end" fill="#111" font-weight="bold" stroke="#111" stroke-width="0.3" >-0.25</text>
<line x1="799.60" y1="39.83" x2="796.80" y2="39.83" stroke="#111" stroke-width="1.4"/>
<line x1="799.60" y1="64.78" x2="796.80" y2="64.78" stroke="#111" stroke-width="1.4"/>
<line x1="799.60" y1="89.72" x2="796.80" y2="89.72" stroke="#111" stroke-width="1.4"/>
<line x1="799.60" y1="114.68" x2="796.80" y2="114.68" stroke="#111" stroke-width="1.4"/>
<line x1="799.60" y1="139.62" x2="796.80" y2="139.62" stroke="#111" stroke-width="1.4"/>
<line x1="799.60" y1="164.57" x2="796.80" y2="164.57" stroke="#111" stroke-width="1.4"/>
<line x1="799.60" y1="189.52" x2="796.80" y2="189.52" stroke="#111" stroke-width="1.4"/>
<line x1="799.60" y1="214.48" x2="796.80" y2="214.48" stroke="#111" stroke-width="1.4"/>
<line x1="799.60" y1="239.43" x2="796.80" y2="239.43" stroke="#111" stroke-width="1.4"/>
<text x="925.3" y="288.8" font-size="24.5" text-anchor="middle" fill="#111" font-weight="bold" stroke="#111" stroke-width="0.3" >Voltage (V)</text>
<text transform="translate(749.3,139.1) rotate(-90) scale(1.0638,1)" font-size="22.56" text-anchor="middle" fill="#111" font-weight="bold" stroke="#111" stroke-width="0.3">Current (mA)</text>
<text x="719.0" y="42.0" font-size="31" text-anchor="start" fill="#111" font-weight="bold" stroke="#111" stroke-width="0.3" >c</text>
<line x1="976.00" y1="41.50" x2="1010.00" y2="41.50" stroke="#F59A3C" stroke-width="1.6"/>
<text x="1014.0" y="46.0" font-size="14.8" text-anchor="start" fill="#111" font-weight="bold" stroke="#111" stroke-width="0.3" >opt-HC</text>
<line x1="976.00" y1="60.50" x2="1010.00" y2="60.50" stroke="#1E9088" stroke-width="1.8"/>
<text x="1014.0" y="65.2" font-size="14.8" text-anchor="start" fill="#111" font-weight="bold" stroke="#111" stroke-width="0.3" >HC-2</text>
</g>
<g id="pd">
<polyline points="108.7,360.0 114.3,360.0 120.0,360.0 125.6,380.9 131.3,383.6 136.9,386.3 142.6,389.0 148.3,391.3 153.9,393.1 159.6,394.9 165.2,396.5 170.9,398.1 176.6,399.2 182.2,400.3 187.9,401.1 193.5,401.9 199.2,402.5 204.8,403.0 210.5,403.5 216.2,403.9 221.8,404.5 227.5,405.0 233.1,405.6 238.8,406.1 244.4,406.7 250.1,407.1 255.8,407.6 261.4,408.0 267.1,408.5 272.7,408.9 278.4,409.2 284.1,409.5 289.7,409.7 295.4,410.0 301.0,410.3 306.7,410.3 312.3,410.4 318.0,410.4 323.7,410.5 329.3,410.5 335.0,410.7 340.6,411.0 346.3,411.2 352.0,411.4 357.6,411.6 363.3,411.9 368.9,412.2 374.6,412.5 380.2,412.7 385.9,413.0 391.6,413.2 397.2,413.4 402.9,413.5 408.5,413.7 414.2,413.9 419.8,414.1 425.5,414.3 431.2,414.4 436.8,414.6 442.5,414.8 448.1,415.0 453.8,415.2 459.5,415.4 465.1,415.5 470.8,415.7 476.4,415.9 482.1,416.1 487.7,416.3 493.4,416.4 499.1,416.6 504.7,416.8 510.4,417.1 516.0,417.3 521.7,417.5 527.3,417.8 533.0,418.0 538.7,418.2 544.3,418.4 550.0,418.7 555.6,418.9 561.3,419.2 567.0,419.5 572.6,419.8 578.3,420.1 583.9,420.5 589.6,420.8 595.2,421.1 600.9,421.4 606.6,421.7 612.2,422.1 617.9,422.3 623.5,422.6 629.2,422.9 634.9,423.1 640.5,423.4 646.2,423.9 651.8,424.3 657.5,424.8 663.1,425.2 668.8,425.7" fill="none" stroke="#F8A441" stroke-width="1.4" stroke-linejoin="round" />
<rect x="106.1" y="357.5" width="5.2" height="5.0" fill="#F8A441"/>
<rect x="111.7" y="357.5" width="5.2" height="5.0" fill="#F8A441"/>
<rect x="117.4" y="357.5" width="5.2" height="5.0" fill="#F8A441"/>
<rect x="123.0" y="378.4" width="5.2" height="5.0" fill="#F8A441"/>
<rect x="128.7" y="381.1" width="5.2" height="5.0" fill="#F8A441"/>
<rect x="134.3" y="383.8" width="5.2" height="5.0" fill="#F8A441"/>
<rect x="140.0" y="386.5" width="5.2" height="5.0" fill="#F8A441"/>
<rect x="145.7" y="388.8" width="5.2" height="5.0" fill="#F8A441"/>
<rect x="151.3" y="390.6" width="5.2" height="5.0" fill="#F8A441"/>
<rect x="157.0" y="392.4" width="5.2" height="5.0" fill="#F8A441"/>
<rect x="162.6" y="394.0" width="5.2" height="5.0" fill="#F8A441"/>
<rect x="168.3" y="395.6" width="5.2" height="5.0" fill="#F8A441"/>
<rect x="174.0" y="396.7" width="5.2" height="5.0" fill="#F8A441"/>
<rect x="179.6" y="397.8" width="5.2" height="5.0" fill="#F8A441"/>
<rect x="185.3" y="398.6" width="5.2" height="5.0" fill="#F8A441"/>
<rect x="190.9" y="399.4" width="5.2" height="5.0" fill="#F8A441"/>
<rect x="196.6" y="400.0" width="5.2" height="5.0" fill="#F8A441"/>
<rect x="202.2" y="400.5" width="5.2" height="5.0" fill="#F8A441"/>
<rect x="207.9" y="401.0" width="5.2" height="5.0" fill="#F8A441"/>
<rect x="213.6" y="401.4" width="5.2" height="5.0" fill="#F8A441"/>
<rect x="219.2" y="402.0" width="5.2" height="5.0" fill="#F8A441"/>
<rect x="224.9" y="402.5" width="5.2" height="5.0" fill="#F8A441"/>
<rect x="230.5" y="403.1" width="5.2" height="5.0" fill="#F8A441"/>
<rect x="236.2" y="403.6" width="5.2" height="5.0" fill="#F8A441"/>
<rect x="241.8" y="404.2" width="5.2" height="5.0" fill="#F8A441"/>
<rect x="247.5" y="404.6" width="5.2" height="5.0" fill="#F8A441"/>
<rect x="253.2" y="405.1" width="5.2" height="5.0" fill="#F8A441"/>
<rect x="258.8" y="405.5" width="5.2" height="5.0" fill="#F8A441"/>
<rect x="264.5" y="406.0" width="5.2" height="5.0" fill="#F8A441"/>
<rect x="270.1" y="406.4" width="5.2" height="5.0" fill="#F8A441"/>
<rect x="275.8" y="406.7" width="5.2" height="5.0" fill="#F8A441"/>
<rect x="281.5" y="407.0" width="5.2" height="5.0" fill="#F8A441"/>
<rect x="287.1" y="407.2" width="5.2" height="5.0" fill="#F8A441"/>
<rect x="292.8" y="407.5" width="5.2" height="5.0" fill="#F8A441"/>
<rect x="298.4" y="407.8" width="5.2" height="5.0" fill="#F8A441"/>
<rect x="304.1" y="407.8" width="5.2" height="5.0" fill="#F8A441"/>
<rect x="309.7" y="407.9" width="5.2" height="5.0" fill="#F8A441"/>
<rect x="315.4" y="407.9" width="5.2" height="5.0" fill="#F8A441"/>
<rect x="321.1" y="408.0" width="5.2" height="5.0" fill="#F8A441"/>
<rect x="326.7" y="408.0" width="5.2" height="5.0" fill="#F8A441"/>
<rect x="332.4" y="408.2" width="5.2" height="5.0" fill="#F8A441"/>
<rect x="338.0" y="408.5" width="5.2" height="5.0" fill="#F8A441"/>
<rect x="343.7" y="408.7" width="5.2" height="5.0" fill="#F8A441"/>
<rect x="349.4" y="408.9" width="5.2" height="5.0" fill="#F8A441"/>
<rect x="355.0" y="409.1" width="5.2" height="5.0" fill="#F8A441"/>
<rect x="360.7" y="409.4" width="5.2" height="5.0" fill="#F8A441"/>
<rect x="366.3" y="409.7" width="5.2" height="5.0" fill="#F8A441"/>
<rect x="372.0" y="410.0" width="5.2" height="5.0" fill="#F8A441"/>
<rect x="377.6" y="410.2" width="5.2" height="5.0" fill="#F8A441"/>
<rect x="383.3" y="410.5" width="5.2" height="5.0" fill="#F8A441"/>
<rect x="389.0" y="410.7" width="5.2" height="5.0" fill="#F8A441"/>
<rect x="394.6" y="410.9" width="5.2" height="5.0" fill="#F8A441"/>
<rect x="400.3" y="411.0" width="5.2" height="5.0" fill="#F8A441"/>
<rect x="405.9" y="411.2" width="5.2" height="5.0" fill="#F8A441"/>
<rect x="411.6" y="411.4" width="5.2" height="5.0" fill="#F8A441"/>
<rect x="417.2" y="411.6" width="5.2" height="5.0" fill="#F8A441"/>
<rect x="422.9" y="411.8" width="5.2" height="5.0" fill="#F8A441"/>
<rect x="428.6" y="411.9" width="5.2" height="5.0" fill="#F8A441"/>
<rect x="434.2" y="412.1" width="5.2" height="5.0" fill="#F8A441"/>
<rect x="439.9" y="412.3" width="5.2" height="5.0" fill="#F8A441"/>
<rect x="445.5" y="412.5" width="5.2" height="5.0" fill="#F8A441"/>
<rect x="451.2" y="412.7" width="5.2" height="5.0" fill="#F8A441"/>
<rect x="456.9" y="412.9" width="5.2" height="5.0" fill="#F8A441"/>
<rect x="462.5" y="413.0" width="5.2" height="5.0" fill="#F8A441"/>
<rect x="468.2" y="413.2" width="5.2" height="5.0" fill="#F8A441"/>
<rect x="473.8" y="413.4" width="5.2" height="5.0" fill="#F8A441"/>
<rect x="479.5" y="413.6" width="5.2" height="5.0" fill="#F8A441"/>
<rect x="485.1" y="413.8" width="5.2" height="5.0" fill="#F8A441"/>
<rect x="490.8" y="413.9" width="5.2" height="5.0" fill="#F8A441"/>
<rect x="496.5" y="414.1" width="5.2" height="5.0" fill="#F8A441"/>
<rect x="502.1" y="414.3" width="5.2" height="5.0" fill="#F8A441"/>
<rect x="507.8" y="414.6" width="5.2" height="5.0" fill="#F8A441"/>
<rect x="513.4" y="414.8" width="5.2" height="5.0" fill="#F8A441"/>
<rect x="519.1" y="415.0" width="5.2" height="5.0" fill="#F8A441"/>
<rect x="524.7" y="415.3" width="5.2" height="5.0" fill="#F8A441"/>
<rect x="530.4" y="415.5" width="5.2" height="5.0" fill="#F8A441"/>
<rect x="536.1" y="415.7" width="5.2" height="5.0" fill="#F8A441"/>
<rect x="541.7" y="415.9" width="5.2" height="5.0" fill="#F8A441"/>
<rect x="547.4" y="416.2" width="5.2" height="5.0" fill="#F8A441"/>
<rect x="553.0" y="416.4" width="5.2" height="5.0" fill="#F8A441"/>
<rect x="558.7" y="416.7" width="5.2" height="5.0" fill="#F8A441"/>
<rect x="564.4" y="417.0" width="5.2" height="5.0" fill="#F8A441"/>
<rect x="570.0" y="417.3" width="5.2" height="5.0" fill="#F8A441"/>
<rect x="575.7" y="417.6" width="5.2" height="5.0" fill="#F8A441"/>
<rect x="581.3" y="418.0" width="5.2" height="5.0" fill="#F8A441"/>
<rect x="587.0" y="418.3" width="5.2" height="5.0" fill="#F8A441"/>
<rect x="592.6" y="418.6" width="5.2" height="5.0" fill="#F8A441"/>
<rect x="598.3" y="418.9" width="5.2" height="5.0" fill="#F8A441"/>
<rect x="604.0" y="419.2" width="5.2" height="5.0" fill="#F8A441"/>
<rect x="609.6" y="419.6" width="5.2" height="5.0" fill="#F8A441"/>
<rect x="615.3" y="419.8" width="5.2" height="5.0" fill="#F8A441"/>
<rect x="620.9" y="420.1" width="5.2" height="5.0" fill="#F8A441"/>
<rect x="626.6" y="420.4" width="5.2" height="5.0" fill="#F8A441"/>
<rect x="632.3" y="420.6" width="5.2" height="5.0" fill="#F8A441"/>
<rect x="637.9" y="420.9" width="5.2" height="5.0" fill="#F8A441"/>
<rect x="643.6" y="421.4" width="5.2" height="5.0" fill="#F8A441"/>
<rect x="649.2" y="421.8" width="5.2" height="5.0" fill="#F8A441"/>
<rect x="654.9" y="422.3" width="5.2" height="5.0" fill="#F8A441"/>
<rect x="660.5" y="422.7" width="5.2" height="5.0" fill="#F8A441"/>
<rect x="666.2" y="423.2" width="5.2" height="5.0" fill="#F8A441"/>
<polyline points="108.7,337.9 114.3,336.1 120.0,336.1 125.6,360.0 131.3,360.2 136.9,360.3 142.6,360.4 148.3,360.5 153.9,360.6 159.6,360.7 165.2,360.9 170.9,361.0 176.6,361.1 182.2,361.3 187.9,361.4 193.5,361.5 199.2,361.7 204.8,361.8 210.5,361.9 216.2,362.1 221.8,362.2 227.5,362.3 233.1,362.4 238.8,362.5 244.4,362.6 250.1,362.8 255.8,362.9 261.4,363.0 267.1,363.1 272.7,363.2 278.4,363.3 284.1,363.4 289.7,363.5 295.4,363.6 301.0,363.7 306.7,363.8 312.3,363.8 318.0,363.9 323.7,364.0 329.3,364.1 335.0,364.2 340.6,364.2 346.3,364.3 352.0,364.3 357.6,364.3 363.3,364.4 368.9,364.4 374.6,364.5 380.2,364.5 385.9,364.6 391.6,364.6 397.2,364.6 402.9,364.6 408.5,364.7 414.2,364.7 419.8,364.7 425.5,364.7 431.2,364.8 436.8,364.8 442.5,364.8 448.1,364.8 453.8,364.8 459.5,364.9 465.1,364.9 470.8,364.9 476.4,364.9 482.1,365.0 487.7,365.0 493.4,365.0 499.1,365.0 504.7,365.1 510.4,365.2 516.0,365.2 521.7,365.3 527.3,365.4 533.0,365.4 538.7,365.5 544.3,365.6 550.0,365.6 555.6,365.7 561.3,365.8 567.0,365.9 572.6,366.0 578.3,366.2 583.9,366.3 589.6,366.4 595.2,366.5 600.9,366.6 606.6,366.7 612.2,366.8 617.9,367.0 623.5,367.2 629.2,367.3 634.9,367.5 640.5,367.6 646.2,367.8 651.8,367.9 657.5,368.1 663.1,368.3 668.8,368.4" fill="none" stroke="#16908A" stroke-width="1.4" stroke-linejoin="round" />
<circle cx="108.7" cy="337.9" r="2.7" fill="#16908A"/>
<circle cx="114.3" cy="336.1" r="2.7" fill="#16908A"/>
<circle cx="120.0" cy="336.1" r="2.7" fill="#16908A"/>
<circle cx="125.6" cy="360.0" r="2.7" fill="#16908A"/>
<circle cx="131.3" cy="360.2" r="2.7" fill="#16908A"/>
<circle cx="136.9" cy="360.3" r="2.7" fill="#16908A"/>
<circle cx="142.6" cy="360.4" r="2.7" fill="#16908A"/>
<circle cx="148.3" cy="360.5" r="2.7" fill="#16908A"/>
<circle cx="153.9" cy="360.6" r="2.7" fill="#16908A"/>
<circle cx="159.6" cy="360.7" r="2.7" fill="#16908A"/>
<circle cx="165.2" cy="360.9" r="2.7" fill="#16908A"/>
<circle cx="170.9" cy="361.0" r="2.7" fill="#16908A"/>
<circle cx="176.6" cy="361.1" r="2.7" fill="#16908A"/>
<circle cx="182.2" cy="361.3" r="2.7" fill="#16908A"/>
<circle cx="187.9" cy="361.4" r="2.7" fill="#16908A"/>
<circle cx="193.5" cy="361.5" r="2.7" fill="#16908A"/>
<circle cx="199.2" cy="361.7" r="2.7" fill="#16908A"/>
<circle cx="204.8" cy="361.8" r="2.7" fill="#16908A"/>
<circle cx="210.5" cy="361.9" r="2.7" fill="#16908A"/>
<circle cx="216.2" cy="362.1" r="2.7" fill="#16908A"/>
<circle cx="221.8" cy="362.2" r="2.7" fill="#16908A"/>
<circle cx="227.5" cy="362.3" r="2.7" fill="#16908A"/>
<circle cx="233.1" cy="362.4" r="2.7" fill="#16908A"/>
<circle cx="238.8" cy="362.5" r="2.7" fill="#16908A"/>
<circle cx="244.4" cy="362.6" r="2.7" fill="#16908A"/>
<circle cx="250.1" cy="362.8" r="2.7" fill="#16908A"/>
<circle cx="255.8" cy="362.9" r="2.7" fill="#16908A"/>
<circle cx="261.4" cy="363.0" r="2.7" fill="#16908A"/>
<circle cx="267.1" cy="363.1" r="2.7" fill="#16908A"/>
<circle cx="272.7" cy="363.2" r="2.7" fill="#16908A"/>
<circle cx="278.4" cy="363.3" r="2.7" fill="#16908A"/>
<circle cx="284.1" cy="363.4" r="2.7" fill="#16908A"/>
<circle cx="289.7" cy="363.5" r="2.7" fill="#16908A"/>
<circle cx="295.4" cy="363.6" r="2.7" fill="#16908A"/>
<circle cx="301.0" cy="363.7" r="2.7" fill="#16908A"/>
<circle cx="306.7" cy="363.8" r="2.7" fill="#16908A"/>
<circle cx="312.3" cy="363.8" r="2.7" fill="#16908A"/>
<circle cx="318.0" cy="363.9" r="2.7" fill="#16908A"/>
<circle cx="323.7" cy="364.0" r="2.7" fill="#16908A"/>
<circle cx="329.3" cy="364.1" r="2.7" fill="#16908A"/>
<circle cx="335.0" cy="364.2" r="2.7" fill="#16908A"/>
<circle cx="340.6" cy="364.2" r="2.7" fill="#16908A"/>
<circle cx="346.3" cy="364.3" r="2.7" fill="#16908A"/>
<circle cx="352.0" cy="364.3" r="2.7" fill="#16908A"/>
<circle cx="357.6" cy="364.3" r="2.7" fill="#16908A"/>
<circle cx="363.3" cy="364.4" r="2.7" fill="#16908A"/>
<circle cx="368.9" cy="364.4" r="2.7" fill="#16908A"/>
<circle cx="374.6" cy="364.5" r="2.7" fill="#16908A"/>
<circle cx="380.2" cy="364.5" r="2.7" fill="#16908A"/>
<circle cx="385.9" cy="364.6" r="2.7" fill="#16908A"/>
<circle cx="391.6" cy="364.6" r="2.7" fill="#16908A"/>
<circle cx="397.2" cy="364.6" r="2.7" fill="#16908A"/>
<circle cx="402.9" cy="364.6" r="2.7" fill="#16908A"/>
<circle cx="408.5" cy="364.7" r="2.7" fill="#16908A"/>
<circle cx="414.2" cy="364.7" r="2.7" fill="#16908A"/>
<circle cx="419.8" cy="364.7" r="2.7" fill="#16908A"/>
<circle cx="425.5" cy="364.7" r="2.7" fill="#16908A"/>
<circle cx="431.2" cy="364.8" r="2.7" fill="#16908A"/>
<circle cx="436.8" cy="364.8" r="2.7" fill="#16908A"/>
<circle cx="442.5" cy="364.8" r="2.7" fill="#16908A"/>
<circle cx="448.1" cy="364.8" r="2.7" fill="#16908A"/>
<circle cx="453.8" cy="364.8" r="2.7" fill="#16908A"/>
<circle cx="459.5" cy="364.9" r="2.7" fill="#16908A"/>
<circle cx="465.1" cy="364.9" r="2.7" fill="#16908A"/>
<circle cx="470.8" cy="364.9" r="2.7" fill="#16908A"/>
<circle cx="476.4" cy="364.9" r="2.7" fill="#16908A"/>
<circle cx="482.1" cy="365.0" r="2.7" fill="#16908A"/>
<circle cx="487.7" cy="365.0" r="2.7" fill="#16908A"/>
<circle cx="493.4" cy="365.0" r="2.7" fill="#16908A"/>
<circle cx="499.1" cy="365.0" r="2.7" fill="#16908A"/>
<circle cx="504.7" cy="365.1" r="2.7" fill="#16908A"/>
<circle cx="510.4" cy="365.2" r="2.7" fill="#16908A"/>
<circle cx="516.0" cy="365.2" r="2.7" fill="#16908A"/>
<circle cx="521.7" cy="365.3" r="2.7" fill="#16908A"/>
<circle cx="527.3" cy="365.4" r="2.7" fill="#16908A"/>
<circle cx="533.0" cy="365.4" r="2.7" fill="#16908A"/>
<circle cx="538.7" cy="365.5" r="2.7" fill="#16908A"/>
<circle cx="544.3" cy="365.6" r="2.7" fill="#16908A"/>
<circle cx="550.0" cy="365.6" r="2.7" fill="#16908A"/>
<circle cx="555.6" cy="365.7" r="2.7" fill="#16908A"/>
<circle cx="561.3" cy="365.8" r="2.7" fill="#16908A"/>
<circle cx="567.0" cy="365.9" r="2.7" fill="#16908A"/>
<circle cx="572.6" cy="366.0" r="2.7" fill="#16908A"/>
<circle cx="578.3" cy="366.2" r="2.7" fill="#16908A"/>
<circle cx="583.9" cy="366.3" r="2.7" fill="#16908A"/>
<circle cx="589.6" cy="366.4" r="2.7" fill="#16908A"/>
<circle cx="595.2" cy="366.5" r="2.7" fill="#16908A"/>
<circle cx="600.9" cy="366.6" r="2.7" fill="#16908A"/>
<circle cx="606.6" cy="366.7" r="2.7" fill="#16908A"/>
<circle cx="612.2" cy="366.8" r="2.7" fill="#16908A"/>
<circle cx="617.9" cy="367.0" r="2.7" fill="#16908A"/>
<circle cx="623.5" cy="367.2" r="2.7" fill="#16908A"/>
<circle cx="629.2" cy="367.3" r="2.7" fill="#16908A"/>
<circle cx="634.9" cy="367.5" r="2.7" fill="#16908A"/>
<circle cx="640.5" cy="367.6" r="2.7" fill="#16908A"/>
<circle cx="646.2" cy="367.8" r="2.7" fill="#16908A"/>
<circle cx="651.8" cy="367.9" r="2.7" fill="#16908A"/>
<circle cx="657.5" cy="368.1" r="2.7" fill="#16908A"/>
<circle cx="663.1" cy="368.3" r="2.7" fill="#16908A"/>
<circle cx="668.8" cy="368.4" r="2.7" fill="#16908A"/>
<rect x="103.00" y="317.50" width="565.80" height="226.30" fill="none" stroke="#1a1a1a" stroke-width="1.7"/>
<line x1="103.00" y1="543.80" x2="103.00" y2="551.30" stroke="#111" stroke-width="1.6"/>
<text x="103.0" y="572.2" font-size="18.4" text-anchor="middle" fill="#111" font-weight="bold" stroke="#111" stroke-width="0.3" >0</text>
<line x1="216.16" y1="543.80" x2="216.16" y2="551.30" stroke="#111" stroke-width="1.6"/>
<text x="216.2" y="572.2" font-size="18.4" text-anchor="middle" fill="#111" font-weight="bold" stroke="#111" stroke-width="0.3" >20</text>
<line x1="329.32" y1="543.80" x2="329.32" y2="551.30" stroke="#111" stroke-width="1.6"/>
<text x="329.3" y="572.2" font-size="18.4" text-anchor="middle" fill="#111" font-weight="bold" stroke="#111" stroke-width="0.3" >40</text>
<line x1="442.48" y1="543.80" x2="442.48" y2="551.30" stroke="#111" stroke-width="1.6"/>
<text x="442.5" y="572.2" font-size="18.4" text-anchor="middle" fill="#111" font-weight="bold" stroke="#111" stroke-width="0.3" >60</text>
<line x1="555.64" y1="543.80" x2="555.64" y2="551.30" stroke="#111" stroke-width="1.6"/>
<text x="555.6" y="572.2" font-size="18.4" text-anchor="middle" fill="#111" font-weight="bold" stroke="#111" stroke-width="0.3" >80</text>
<line x1="668.80" y1="543.80" x2="668.80" y2="551.30" stroke="#111" stroke-width="1.6"/>
<text x="668.8" y="572.2" font-size="18.4" text-anchor="middle" fill="#111" font-weight="bold" stroke="#111" stroke-width="0.3" >100</text>
<line x1="159.58" y1="543.80" x2="159.58" y2="547.60" stroke="#111" stroke-width="1.5"/>
<line x1="272.74" y1="543.80" x2="272.74" y2="547.60" stroke="#111" stroke-width="1.5"/>
<line x1="385.90" y1="543.80" x2="385.90" y2="547.60" stroke="#111" stroke-width="1.5"/>
<line x1="499.06" y1="543.80" x2="499.06" y2="547.60" stroke="#111" stroke-width="1.5"/>
<line x1="612.22" y1="543.80" x2="612.22" y2="547.60" stroke="#111" stroke-width="1.5"/>
<line x1="103.00" y1="543.80" x2="95.50" y2="543.80" stroke="#111" stroke-width="1.6"/>
<text x="88.3" y="550.0" font-size="18.4" text-anchor="end" fill="#111" font-weight="bold" stroke="#111" stroke-width="0.3" >0</text>
<line x1="103.00" y1="498.54" x2="95.50" y2="498.54" stroke="#111" stroke-width="1.6"/>
<text x="88.3" y="504.7" font-size="18.4" text-anchor="end" fill="#111" font-weight="bold" stroke="#111" stroke-width="0.3" >100</text>
<line x1="103.00" y1="453.28" x2="95.50" y2="453.28" stroke="#111" stroke-width="1.6"/>
<text x="88.3" y="459.4" font-size="18.4" text-anchor="end" fill="#111" font-weight="bold" stroke="#111" stroke-width="0.3" >200</text>
<line x1="103.00" y1="408.02" x2="95.50" y2="408.02" stroke="#111" stroke-width="1.6"/>
<text x="88.3" y="414.2" font-size="18.4" text-anchor="end" fill="#111" font-weight="bold" stroke="#111" stroke-width="0.3" >300</text>
<line x1="103.00" y1="362.76" x2="95.50" y2="362.76" stroke="#111" stroke-width="1.6"/>
<text x="88.3" y="368.9" font-size="18.4" text-anchor="end" fill="#111" font-weight="bold" stroke="#111" stroke-width="0.3" >400</text>
<line x1="103.00" y1="317.50" x2="95.50" y2="317.50" stroke="#111" stroke-width="1.6"/>
<text x="88.3" y="323.7" font-size="18.4" text-anchor="end" fill="#111" font-weight="bold" stroke="#111" stroke-width="0.3" >500</text>
<line x1="103.00" y1="521.17" x2="99.20" y2="521.17" stroke="#111" stroke-width="1.5"/>
<line x1="103.00" y1="475.91" x2="99.20" y2="475.91" stroke="#111" stroke-width="1.5"/>
<line x1="103.00" y1="430.65" x2="99.20" y2="430.65" stroke="#111" stroke-width="1.5"/>
<line x1="103.00" y1="385.39" x2="99.20" y2="385.39" stroke="#111" stroke-width="1.5"/>
<line x1="103.00" y1="340.13" x2="99.20" y2="340.13" stroke="#111" stroke-width="1.5"/>
<text x="386.4" y="606.0" font-size="25.8" text-anchor="middle" fill="#111" font-weight="bold" stroke="#111" stroke-width="0.3" >Cycle number</text>
<text transform="translate(48.3,435.2) rotate(-90) scale(1.0526,1)" font-size="24.80" text-anchor="middle" fill="#111" font-weight="bold" stroke="#111" stroke-width="0.3">Specific capacific (mAh/g)</text>
<text x="5.3" y="319.2" font-size="28.5" text-anchor="start" fill="#111" font-weight="bold" stroke="#111" stroke-width="0.3" >d</text>
<line x1="550.50" y1="333.80" x2="594.00" y2="333.80" stroke="#F8A441" stroke-width="1.4"/>
<rect x="569.8" y="331.4" width="4.8" height="4.8" fill="#F8A441"/>
<text x="598.5" y="339.8" font-size="19" text-anchor="start" fill="#111" font-weight="bold" stroke="#111" stroke-width="0.3" >opt-HC</text>
<line x1="550.50" y1="357.50" x2="594.00" y2="357.50" stroke="#16908A" stroke-width="1.4"/>
<circle cx="572.2" cy="357.5" r="2.5" fill="#16908A"/>
<text x="598.5" y="363.6" font-size="19" text-anchor="start" fill="#111" font-weight="bold" stroke="#111" stroke-width="0.3" >HC-2</text>
<text x="370.7" y="400.0" stroke="#111" stroke-width="0.3" font-size="19">0.05 A g<tspan font-size="12" dy="-7.5">-1</tspan></text>
</g>
<g id="pe">
<clipPath id="cpe"><rect x="781.3" y="318.5" width="279.9" height="225.3"/></clipPath>
<rect x="783.30" y="318.50" width="278.90" height="224.70" fill="none" stroke="#111" stroke-width="1.9"/>
<g clip-path="url(#cpe)">
<path d="M783.7,338.7 C783.7,357.3 783.5,427.8 783.6,450.5 C783.6,473.2 783.8,469.1 784.0,474.9 C784.3,480.8 783.8,482.3 785.3,485.6 C786.7,488.9 790.3,492.3 792.9,494.7 C795.4,497.2 798.0,498.3 800.5,500.1 C803.0,501.9 805.6,503.3 808.1,505.4 C810.7,507.6 813.2,510.5 815.8,513.0 C818.3,515.6 820.8,518.4 823.4,520.7 C825.9,523.0 828.5,524.9 831.0,526.8 C833.6,528.7 836.1,530.7 838.6,532.1 C841.2,533.5 842.5,534.3 846.3,535.2 C850.1,536.1 856.4,536.8 861.5,537.4 C866.6,538.1 865.4,538.3 876.8,539.0 C888.2,539.6 916.1,541.0 930.0,541.4 C943.9,541.8 948.3,541.0 960.0,541.2 C971.7,541.4 993.3,542.4 1000.0,542.6" fill="none" stroke="#1F7FD4" stroke-width="1.7" stroke-linejoin="round" stroke-linecap="round" />
<path d="M783.4,541.3 C785.0,540.8 788.8,539.1 792.9,538.2 C797.0,537.4 801.8,536.8 808.1,536.2 C814.5,535.6 824.0,534.9 831.0,534.7 C838.0,534.5 837.8,535.3 850.0,535.3 C862.2,535.3 892.8,535.1 903.9,534.7 C915.1,534.3 913.3,533.6 917.1,532.9 C920.9,532.2 923.9,531.5 926.7,530.5 C929.5,529.5 931.5,528.6 933.9,526.9 C936.3,525.2 938.7,523.0 941.1,520.3 C943.5,517.6 945.9,514.3 948.3,510.7 C950.7,507.1 953.3,502.7 955.5,498.7 C957.7,494.7 959.7,490.9 961.5,486.8 C963.3,482.6 964.9,478.2 966.3,473.6 C967.7,469.0 968.2,466.8 970.0,459.2 C971.7,451.6 975.0,438.7 976.8,428.0 C978.6,417.4 979.8,406.3 980.9,395.4 C981.9,384.5 982.5,372.2 983.0,362.7 C983.5,353.1 983.7,342.3 983.8,338.2" fill="none" stroke="#1F7FD4" stroke-width="1.7" stroke-linejoin="round" stroke-linecap="round" />
<path d="M783.7,338.7 C783.7,356.6 783.5,423.7 783.6,446.3 C783.6,468.9 783.8,467.7 784.0,474.1 C784.3,480.5 784.3,481.8 785.3,484.7 C786.2,487.7 788.1,489.7 789.9,491.8 C791.8,493.9 794.0,495.1 796.3,497.1 C798.6,499.2 801.4,501.5 803.9,504.2 C806.5,506.8 809.0,510.2 811.6,513.0 C814.1,515.9 816.6,518.9 819.2,521.5 C821.7,524.1 824.3,526.4 826.8,528.5 C829.4,530.5 831.9,532.4 834.4,533.8 C837.0,535.2 839.0,536.0 842.1,536.8 C845.2,537.7 848.7,538.3 853.1,538.9 C857.5,539.4 860.5,539.8 868.4,540.2 C876.3,540.7 888.2,541.5 900.7,541.8 C913.2,542.0 930.6,541.9 943.5,542.0 C956.4,542.1 972.3,542.4 978.0,542.5" fill="none" stroke="#55BFF0" stroke-width="1.7" stroke-linejoin="round" stroke-linecap="round" />
<path d="M783.4,540.5 C785.0,540.0 788.8,538.4 792.9,537.6 C797.0,536.8 801.8,536.3 808.1,535.8 C814.5,535.2 824.0,534.5 831.0,534.4 C838.0,534.3 839.8,535.2 850.0,535.2 C860.2,535.1 883.2,534.7 892.0,534.1 C900.7,533.5 899.5,532.8 902.7,531.7 C905.9,530.6 908.5,529.3 911.1,527.5 C913.7,525.7 915.9,523.5 918.3,520.9 C920.7,518.3 923.3,514.9 925.5,511.9 C927.7,508.9 929.5,506.1 931.5,502.9 C933.5,499.7 935.5,496.4 937.5,492.7 C939.5,489.0 941.6,485.0 943.5,480.8 C945.4,476.6 947.3,472.0 948.9,467.6 C950.5,463.2 951.8,459.0 953.1,454.4 C954.4,449.8 955.8,444.4 956.7,440.0 C957.6,435.6 957.5,435.5 958.5,428.0 C959.5,420.6 961.3,406.3 962.4,395.4 C963.6,384.5 964.7,372.2 965.4,362.7 C966.1,353.1 966.4,342.3 966.7,338.2" fill="none" stroke="#55BFF0" stroke-width="1.7" stroke-linejoin="round" stroke-linecap="round" />
<path d="M783.7,338.7 C783.7,356.3 783.5,421.9 783.6,444.4 C783.6,466.9 783.8,467.0 784.0,473.7 C784.3,480.4 784.5,481.6 785.3,484.4 C786.0,487.2 787.1,488.6 788.6,490.5 C790.1,492.4 792.2,493.6 794.4,495.8 C796.6,498.0 799.5,500.7 802.0,503.6 C804.6,506.5 807.1,510.0 809.7,513.0 C812.2,516.1 814.7,519.2 817.3,521.9 C819.8,524.6 822.4,527.1 824.9,529.2 C827.5,531.3 830.0,533.2 832.5,534.6 C835.1,535.9 837.4,536.8 840.2,537.6 C843.0,538.4 845.2,539.0 849.3,539.5 C853.4,540.1 858.2,540.4 864.6,540.8 C870.9,541.2 875.5,541.6 887.4,541.9 C899.3,542.2 922.6,542.3 936.0,542.3 C949.4,542.4 962.7,542.4 968.0,542.4" fill="none" stroke="#C9E8F7" stroke-width="1.7" stroke-linejoin="round" stroke-linecap="round" />
<path d="M783.4,539.9 C785.0,539.4 788.8,537.9 792.9,537.1 C797.0,536.4 801.8,535.9 808.1,535.5 C814.5,535.0 824.0,534.3 831.0,534.2 C838.0,534.2 841.2,535.2 850.0,535.1 C858.8,534.9 876.4,534.2 883.6,533.5 C890.8,532.8 890.4,532.1 893.2,531.1 C896.0,530.1 898.0,529.0 900.3,527.3 C902.7,525.5 905.1,523.2 907.5,520.6 C909.9,518.0 912.5,514.6 914.7,511.7 C916.9,508.7 918.7,506.1 920.7,502.9 C922.7,499.8 924.7,496.4 926.7,492.7 C928.7,489.0 930.8,485.0 932.7,480.8 C934.6,476.6 936.5,472.0 938.1,467.6 C939.7,463.2 941.1,459.0 942.3,454.4 C943.5,449.8 944.5,444.4 945.3,440.0 C946.1,435.6 946.4,435.5 947.4,428.0 C948.4,420.6 950.4,406.3 951.5,395.4 C952.6,384.5 953.2,372.2 953.9,362.7 C954.6,353.1 955.3,342.3 955.6,338.2" fill="none" stroke="#C9E8F7" stroke-width="1.7" stroke-linejoin="round" stroke-linecap="round" />
<path d="M783.7,338.7 C783.7,356.2 783.5,421.2 783.6,443.6 C783.6,466.1 783.8,466.8 784.0,473.5 C784.3,480.3 784.6,481.5 785.3,484.2 C785.9,486.9 786.7,488.1 788.1,489.9 C789.5,491.8 791.4,493.0 793.6,495.3 C795.8,497.5 798.7,500.4 801.3,503.4 C803.8,506.3 806.4,509.9 808.9,513.0 C811.4,516.2 814.0,519.3 816.5,522.0 C819.1,524.8 821.6,527.4 824.1,529.5 C826.7,531.7 829.2,533.5 831.8,534.9 C834.3,536.3 836.7,537.1 839.4,537.9 C842.1,538.7 843.9,539.3 847.8,539.8 C851.7,540.3 857.3,540.7 863.0,541.0 C868.8,541.4 870.4,541.7 882.1,542.0 C893.8,542.2 919.4,542.4 933.0,542.5 C946.7,542.6 958.8,542.4 964.0,542.4" fill="none" stroke="#7DB56E" stroke-width="1.7" stroke-linejoin="round" stroke-linecap="round" />
<path d="M783.4,539.3 C784.7,538.8 787.2,537.4 791.4,536.7 C795.5,536.0 801.5,535.6 808.1,535.2 C814.7,534.7 824.0,534.1 831.0,534.1 C838.0,534.1 842.2,535.1 850.0,534.9 C857.8,534.8 871.4,533.9 877.6,533.1 C883.8,532.4 884.4,531.6 887.2,530.5 C890.0,529.4 892.0,528.3 894.4,526.5 C896.8,524.8 899.1,522.4 901.5,519.7 C903.9,517.1 906.5,513.6 908.7,510.7 C910.9,507.8 912.7,505.4 914.7,502.3 C916.7,499.2 918.7,495.7 920.7,492.1 C922.7,488.5 924.8,484.9 926.7,480.8 C928.6,476.7 930.6,472.0 932.1,467.6 C933.6,463.2 934.5,459.0 935.7,454.4 C936.9,449.8 938.3,444.4 939.3,440.0 C940.3,435.6 940.6,435.5 941.7,428.0 C942.7,420.6 944.4,406.3 945.4,395.4 C946.5,384.5 947.2,372.2 947.9,362.7 C948.6,353.1 949.2,342.3 949.5,338.2" fill="none" stroke="#7DB56E" stroke-width="1.7" stroke-linejoin="round" stroke-linecap="round" />
<path d="M783.7,338.7 C783.7,356.1 783.5,420.8 783.6,443.3 C783.6,465.7 783.8,466.6 784.0,473.5 C784.3,480.3 784.6,481.4 785.3,484.1 C785.9,486.8 786.5,487.9 787.8,489.7 C789.1,491.5 791.1,492.7 793.3,495.0 C795.4,497.3 798.3,500.2 800.9,503.2 C803.4,506.3 806.0,509.9 808.5,513.0 C811.1,516.2 813.6,519.3 816.1,522.1 C818.7,524.9 821.2,527.5 823.8,529.7 C826.3,531.8 828.9,533.6 831.4,535.0 C833.9,536.4 836.4,537.2 839.0,538.1 C841.6,538.9 843.2,539.4 847.0,539.9 C850.9,540.4 856.9,540.8 862.3,541.1 C867.7,541.5 867.9,541.8 879.4,542.0 C891.0,542.2 917.7,542.5 931.5,542.6 C945.3,542.6 956.9,542.4 962.0,542.4" fill="none" stroke="#DADCA2" stroke-width="1.7" stroke-linejoin="round" stroke-linecap="round" />
<path d="M783.4,538.7 C784.6,538.3 786.5,536.9 790.6,536.2 C794.7,535.6 801.4,535.1 808.1,534.7 C814.9,534.3 824.0,533.8 831.0,533.8 C838.0,533.8 842.8,534.9 850.0,534.7 C857.2,534.5 868.6,533.3 874.0,532.5 C879.4,531.8 879.8,531.2 882.4,530.1 C885.0,529.1 887.2,527.9 889.6,526.1 C892.0,524.2 894.4,521.8 896.8,519.1 C899.1,516.5 901.7,513.0 903.9,510.1 C906.1,507.2 907.9,504.8 909.9,501.7 C911.9,498.6 913.9,495.2 915.9,491.5 C917.9,487.9 920.1,483.6 921.9,479.6 C923.7,475.6 925.3,471.8 926.7,467.6 C928.1,463.4 929.2,459.0 930.3,454.4 C931.4,449.8 932.4,444.4 933.3,440.0 C934.2,435.6 934.6,435.5 935.6,428.0 C936.6,420.6 938.2,406.3 939.2,395.4 C940.2,384.5 941.0,372.2 941.7,362.7 C942.3,353.1 943.0,342.3 943.3,338.2" fill="none" stroke="#DADCA2" stroke-width="1.7" stroke-linejoin="round" stroke-linecap="round" />
<path d="M783.7,338.7 C783.7,356.1 783.5,420.6 783.6,443.0 C783.6,465.5 783.8,466.6 784.0,473.4 C784.3,480.3 784.7,481.4 785.3,484.1 C785.9,486.8 786.4,487.7 787.6,489.5 C788.9,491.3 790.9,492.6 793.0,494.8 C795.2,497.1 798.1,500.1 800.7,503.2 C803.2,506.2 805.7,509.9 808.3,513.0 C810.8,516.2 813.4,519.4 815.9,522.2 C818.5,525.0 821.0,527.6 823.5,529.8 C826.1,531.9 828.6,533.7 831.2,535.1 C833.7,536.5 836.2,537.3 838.8,538.2 C841.4,539.0 842.7,539.5 846.6,540.0 C850.4,540.5 856.6,540.9 861.8,541.2 C867.0,541.6 866.4,541.8 877.8,542.0 C889.3,542.2 916.8,542.5 930.6,542.6 C944.4,542.7 955.8,542.4 960.8,542.4" fill="none" stroke="#B5883D" stroke-width="1.7" stroke-linejoin="round" stroke-linecap="round" />
<path d="M783.4,538.1 C784.5,537.7 786.2,536.5 789.8,535.9 C793.4,535.3 799.5,534.9 805.1,534.6 C810.7,534.2 815.9,533.7 823.4,533.6 C830.9,533.6 842.6,534.4 850.0,534.1 C857.4,533.8 863.6,532.8 868.0,532.1 C872.4,531.4 873.8,531.0 876.4,529.9 C879.0,528.8 881.2,527.5 883.6,525.7 C886.0,523.9 888.4,521.8 890.8,519.1 C893.2,516.4 895.8,512.5 898.0,509.5 C900.1,506.5 901.9,504.1 903.9,501.1 C905.9,498.1 907.9,495.1 909.9,491.5 C911.9,488.0 914.1,483.6 915.9,479.6 C917.7,475.6 919.3,471.8 920.7,467.6 C922.1,463.4 923.2,459.0 924.3,454.4 C925.4,449.8 926.5,444.4 927.3,440.0 C928.1,435.6 928.2,435.5 929.1,428.0 C929.9,420.6 931.3,406.3 932.4,395.4 C933.4,384.5 934.4,372.2 935.1,362.7 C935.9,353.1 936.5,342.3 936.8,338.2" fill="none" stroke="#B5883D" stroke-width="1.7" stroke-linejoin="round" stroke-linecap="round" />
<path d="M783.7,338.7 C783.7,356.1 783.5,420.4 783.6,442.9 C783.6,465.3 783.8,466.5 784.0,473.4 C784.3,480.3 784.7,481.4 785.3,484.1 C785.8,486.7 786.3,487.6 787.5,489.4 C788.8,491.2 790.7,492.5 792.9,494.7 C795.0,497.0 798.0,500.1 800.5,503.1 C803.0,506.2 805.6,509.9 808.1,513.0 C810.7,516.2 813.2,519.4 815.8,522.2 C818.3,525.0 820.8,527.7 823.4,529.8 C825.9,532.0 828.5,533.8 831.0,535.2 C833.6,536.6 836.1,537.4 838.6,538.2 C841.2,539.0 842.5,539.5 846.3,540.0 C850.1,540.6 856.4,540.9 861.5,541.3 C866.6,541.6 865.4,541.8 876.8,542.0 C888.2,542.3 916.1,542.6 930.0,542.6 C943.9,542.7 955.0,542.4 960.0,542.4" fill="none" stroke="#9E5226" stroke-width="1.7" stroke-linejoin="round" stroke-linecap="round" />
<path d="M783.4,537.4 C784.2,537.1 785.5,536.1 788.3,535.6 C791.2,535.1 795.9,534.7 800.5,534.4 C805.1,534.1 810.7,533.8 815.8,533.6 C820.8,533.4 825.3,533.2 831.0,533.2 C836.7,533.1 844.8,533.5 850.0,533.3 C855.2,533.0 858.8,532.3 862.0,531.7 C865.2,531.1 867.2,530.6 869.2,529.9 C871.2,529.2 872.0,528.7 874.0,527.5 C876.0,526.3 879.2,524.3 881.2,522.7 C883.2,521.1 884.2,519.9 886.0,517.9 C887.8,515.9 890.0,513.3 892.0,510.7 C894.0,508.1 896.0,505.3 898.0,502.3 C899.9,499.3 901.9,496.3 903.9,492.7 C905.9,489.1 908.1,484.8 909.9,480.8 C911.7,476.8 913.4,473.2 914.7,468.8 C916.0,464.4 916.8,459.2 917.7,454.4 C918.6,449.6 919.5,444.4 920.1,440.0 C920.7,435.6 920.5,435.5 921.2,428.0 C922.0,420.6 923.6,406.3 924.5,395.4 C925.5,384.5 926.3,372.2 927.0,362.7 C927.6,353.1 928.3,342.3 928.6,338.2" fill="none" stroke="#9E5226" stroke-width="1.7" stroke-linejoin="round" stroke-linecap="round" />
</g>
<line x1="782.35" y1="543.20" x2="1063.15" y2="543.20" stroke="#111" stroke-width="1.9"/>
<line x1="783.30" y1="543.20" x2="783.30" y2="548.20" stroke="#111" stroke-width="1.6"/>
<text x="783.3" y="565.1" font-size="18.6" text-anchor="middle" fill="#111" font-weight="bold" stroke="#111" stroke-width="0.3" >0</text>
<line x1="839.05" y1="543.20" x2="839.05" y2="548.20" stroke="#111" stroke-width="1.6"/>
<text x="839.0" y="565.1" font-size="18.6" text-anchor="middle" fill="#111" font-weight="bold" stroke="#111" stroke-width="0.3" >100</text>
<line x1="894.80" y1="543.20" x2="894.80" y2="548.20" stroke="#111" stroke-width="1.6"/>
<text x="894.8" y="565.1" font-size="18.6" text-anchor="middle" fill="#111" font-weight="bold" stroke="#111" stroke-width="0.3" >200</text>
<line x1="950.55" y1="543.20" x2="950.55" y2="548.20" stroke="#111" stroke-width="1.6"/>
<text x="950.5" y="565.1" font-size="18.6" text-anchor="middle" fill="#111" font-weight="bold" stroke="#111" stroke-width="0.3" >300</text>
<line x1="1006.30" y1="543.20" x2="1006.30" y2="548.20" stroke="#111" stroke-width="1.6"/>
<text x="1006.3" y="565.1" font-size="18.6" text-anchor="middle" fill="#111" font-weight="bold" stroke="#111" stroke-width="0.3" >400</text>
<line x1="1062.05" y1="543.20" x2="1062.05" y2="548.20" stroke="#111" stroke-width="1.6"/>
<text x="1062.0" y="565.1" font-size="18.6" text-anchor="middle" fill="#111" font-weight="bold" stroke="#111" stroke-width="0.3" >500</text>
<line x1="811.17" y1="543.20" x2="811.17" y2="546.00" stroke="#111" stroke-width="1.4"/>
<line x1="866.92" y1="543.20" x2="866.92" y2="546.00" stroke="#111" stroke-width="1.4"/>
<line x1="922.67" y1="543.20" x2="922.67" y2="546.00" stroke="#111" stroke-width="1.4"/>
<line x1="978.42" y1="543.20" x2="978.42" y2="546.00" stroke="#111" stroke-width="1.4"/>
<line x1="1034.17" y1="543.20" x2="1034.17" y2="546.00" stroke="#111" stroke-width="1.4"/>
<line x1="783.30" y1="543.20" x2="778.30" y2="543.20" stroke="#111" stroke-width="1.6"/>
<text x="775.3" y="549.4" font-size="18.6" text-anchor="end" fill="#111" font-weight="bold" stroke="#111" stroke-width="0.3" >0.0</text>
<line x1="783.30" y1="502.30" x2="778.30" y2="502.30" stroke="#111" stroke-width="1.6"/>
<text x="775.3" y="508.5" font-size="18.6" text-anchor="end" fill="#111" font-weight="bold" stroke="#111" stroke-width="0.3" >0.5</text>
<line x1="783.30" y1="461.40" x2="778.30" y2="461.40" stroke="#111" stroke-width="1.6"/>
<text x="775.3" y="467.6" font-size="18.6" text-anchor="end" fill="#111" font-weight="bold" stroke="#111" stroke-width="0.3" >1.0</text>
<line x1="783.30" y1="420.50" x2="778.30" y2="420.50" stroke="#111" stroke-width="1.6"/>
<text x="775.3" y="426.7" font-size="18.6" text-anchor="end" fill="#111" font-weight="bold" stroke="#111" stroke-width="0.3" >1.5</text>
<line x1="783.30" y1="379.60" x2="778.30" y2="379.60" stroke="#111" stroke-width="1.6"/>
<text x="775.3" y="385.8" font-size="18.6" text-anchor="end" fill="#111" font-weight="bold" stroke="#111" stroke-width="0.3" >2.0</text>
<line x1="783.30" y1="338.70" x2="778.30" y2="338.70" stroke="#111" stroke-width="1.6"/>
<text x="775.3" y="344.9" font-size="18.6" text-anchor="end" fill="#111" font-weight="bold" stroke="#111" stroke-width="0.3" >2.5</text>
<line x1="783.30" y1="522.75" x2="780.50" y2="522.75" stroke="#111" stroke-width="1.4"/>
<line x1="783.30" y1="481.85" x2="780.50" y2="481.85" stroke="#111" stroke-width="1.4"/>
<line x1="783.30" y1="440.95" x2="780.50" y2="440.95" stroke="#111" stroke-width="1.4"/>
<line x1="783.30" y1="400.05" x2="780.50" y2="400.05" stroke="#111" stroke-width="1.4"/>
<line x1="783.30" y1="359.15" x2="780.50" y2="359.15" stroke="#111" stroke-width="1.4"/>
<text x="908.5" y="596.0" font-size="25.4" text-anchor="middle" fill="#111" font-weight="bold" stroke="#111" stroke-width="0.3" >Specific capacity (mAh/g)</text>
<text transform="translate(743.4,428.2) rotate(-90) scale(1.0638,1)" font-size="24.16" text-anchor="middle" fill="#111" font-weight="bold" stroke="#111" stroke-width="0.3">Voltage (V)</text>
<text x="720.5" y="319.9" font-size="29" text-anchor="start" fill="#111" font-weight="bold" stroke="#111" stroke-width="0.3" >e</text>
<line x1="794.70" y1="334.60" x2="829.00" y2="334.60" stroke="#1F7FD4" stroke-width="2.0"/>
<text x="832.6" y="339.1" font-size="14.5">4<tspan font-size="9.6" dy="-5">th</tspan></text>
<line x1="794.70" y1="355.50" x2="829.00" y2="355.50" stroke="#55BFF0" stroke-width="2.0"/>
<text x="832.6" y="360.0" font-size="14.5">10<tspan font-size="9.6" dy="-5">th</tspan></text>
<line x1="794.70" y1="376.40" x2="829.00" y2="376.40" stroke="#C9E8F7" stroke-width="2.0"/>
<text x="832.6" y="380.9" font-size="14.5">20<tspan font-size="9.6" dy="-5">th</tspan></text>
<line x1="794.70" y1="397.30" x2="829.00" y2="397.30" stroke="#7DB56E" stroke-width="2.0"/>
<text x="832.6" y="401.8" font-size="14.5">30<tspan font-size="9.6" dy="-5">th</tspan></text>
<line x1="794.70" y1="418.20" x2="829.00" y2="418.20" stroke="#DADCA2" stroke-width="2.0"/>
<text x="832.6" y="422.7" font-size="14.5">50<tspan font-size="9.6" dy="-5">th</tspan></text>
<line x1="794.70" y1="439.10" x2="829.00" y2="439.10" stroke="#B5883D" stroke-width="2.0"/>
<text x="832.6" y="443.6" font-size="14.5">80<tspan font-size="9.6" dy="-5">th</tspan></text>
<line x1="794.70" y1="460.00" x2="829.00" y2="460.00" stroke="#9E5226" stroke-width="2.0"/>
<text x="832.6" y="464.5" font-size="14.5">100<tspan font-size="9.6" dy="-5">th</tspan></text>
</g>
<g id="pf">
<clipPath id="cpf"><rect x="71.0" y="638.1" width="263.3" height="212.5"/></clipPath>
<rect x="73.00" y="638.10" width="262.30" height="211.90" fill="none" stroke="#111" stroke-width="1.9"/>
<g clip-path="url(#cpf)">
<path d="M73.4,657.6 C73.4,674.3 73.2,737.7 73.2,757.8 C73.2,777.8 73.1,773.0 73.3,777.8 C73.6,782.5 73.8,783.4 74.8,786.2 C75.8,789.1 77.3,792.0 79.3,794.8 C81.2,797.7 83.7,800.3 86.7,803.4 C89.6,806.5 94.1,810.4 97.0,813.3 C100.0,816.2 102.0,818.4 104.4,820.7 C106.9,823.1 109.4,825.3 111.9,827.4 C114.3,829.6 116.8,831.8 119.3,833.6 C121.7,835.5 124.2,837.2 126.7,838.5 C129.1,839.9 130.4,840.8 134.1,841.6 C137.8,842.5 141.5,843.0 148.9,843.7 C156.3,844.4 166.7,845.4 178.5,846.1 C190.4,846.7 206.4,847.4 220.0,847.7 C233.6,848.0 246.7,847.8 260.0,848.0 C273.3,848.2 293.3,848.9 300.0,849.1" fill="none" stroke="#1F7FD4" stroke-width="1.7" stroke-linejoin="round" stroke-linecap="round" />
<path d="M73.0,847.4 C74.1,847.0 76.5,845.8 79.3,845.2 C82.0,844.6 85.4,844.1 89.6,843.7 C93.8,843.3 99.5,842.9 104.4,842.7 C109.4,842.4 114.3,842.3 119.3,842.2 C124.2,842.1 129.1,842.0 134.1,841.9 C139.0,841.8 144.0,841.6 148.9,841.5 C153.8,841.3 155.7,841.2 163.7,841.0 C171.7,840.9 188.1,841.1 196.8,840.7 C205.5,840.3 210.1,839.7 215.9,838.8 C221.7,837.9 226.9,837.2 231.5,835.2 C236.1,833.2 239.7,830.2 243.5,826.8 C247.3,823.4 250.9,819.2 254.3,814.9 C257.6,810.5 260.8,806.1 263.8,800.5 C266.8,794.9 269.8,788.9 272.2,781.3 C274.6,773.7 276.5,764.6 278.2,755.0 C279.9,745.4 281.4,735.0 282.5,723.8 C283.6,712.7 284.3,699.0 284.9,687.9 C285.5,676.8 285.9,662.4 286.1,657.2" fill="none" stroke="#1F7FD4" stroke-width="1.7" stroke-linejoin="round" stroke-linecap="round" />
<path d="M73.4,657.6 C73.4,674.2 73.2,737.3 73.2,757.3 C73.2,777.3 73.1,772.8 73.3,777.7 C73.6,782.5 73.8,783.3 74.8,786.2 C75.8,789.0 77.3,791.9 79.3,794.8 C81.2,797.7 83.7,800.3 86.7,803.5 C89.6,806.6 94.1,810.7 97.0,813.7 C100.0,816.7 102.0,819.0 104.4,821.4 C106.9,823.8 109.4,826.0 111.9,828.2 C114.3,830.3 116.8,832.5 119.3,834.3 C121.7,836.1 123.9,837.7 126.4,838.9 C128.9,840.1 130.3,841.0 134.1,841.8 C137.8,842.6 141.5,843.1 148.9,843.8 C156.3,844.6 166.7,845.5 178.5,846.2 C190.4,846.8 206.4,847.5 220.0,847.8 C233.6,848.1 246.7,847.9 260.0,848.1 C273.3,848.3 293.3,849.0 300.0,849.1" fill="none" stroke="#55BFF0" stroke-width="1.7" stroke-linejoin="round" stroke-linecap="round" />
<path d="M73.0,847.4 C74.1,847.0 76.5,845.8 79.3,845.2 C82.0,844.6 85.4,844.1 89.6,843.7 C93.8,843.3 99.5,842.9 104.4,842.7 C109.4,842.4 114.3,842.3 119.3,842.2 C124.2,842.1 129.1,842.0 134.1,841.9 C139.0,841.8 144.0,841.6 148.9,841.5 C153.8,841.3 155.8,841.2 163.7,841.0 C171.6,840.9 187.9,841.0 196.4,840.6 C204.9,840.2 209.1,839.6 214.7,838.7 C220.3,837.8 225.5,837.1 230.1,835.1 C234.6,833.1 238.1,830.2 241.8,826.8 C245.6,823.5 249.2,819.2 252.6,814.9 C256.0,810.5 259.2,806.1 262.2,800.5 C265.2,794.9 268.2,788.9 270.6,781.3 C273.0,773.7 274.9,764.6 276.6,755.0 C278.3,745.4 279.7,735.0 280.8,723.8 C281.9,712.7 282.6,699.0 283.2,687.9 C283.8,676.8 284.2,662.4 284.4,657.2" fill="none" stroke="#55BFF0" stroke-width="1.7" stroke-linejoin="round" stroke-linecap="round" />
<path d="M73.4,657.6 C73.4,674.1 73.2,736.9 73.2,756.9 C73.2,776.9 73.1,772.7 73.3,777.6 C73.6,782.4 73.8,783.3 74.8,786.1 C75.8,789.0 77.3,791.9 79.3,794.8 C81.2,797.7 83.7,800.3 86.7,803.5 C89.6,806.7 94.1,810.9 97.0,814.0 C100.0,817.1 102.0,819.4 104.4,821.9 C106.9,824.3 109.4,826.6 111.9,828.7 C114.3,830.9 116.9,833.1 119.3,834.9 C121.7,836.6 123.8,838.0 126.2,839.2 C128.7,840.4 130.3,841.2 134.1,841.9 C137.9,842.7 141.5,843.2 148.9,843.9 C156.3,844.6 166.7,845.6 178.5,846.3 C190.4,846.9 206.4,847.5 220.0,847.8 C233.6,848.2 246.7,848.0 260.0,848.2 C273.3,848.4 293.3,849.0 300.0,849.2" fill="none" stroke="#C9E8F7" stroke-width="1.7" stroke-linejoin="round" stroke-linecap="round" />
<path d="M73.0,847.4 C74.1,847.0 76.5,845.8 79.3,845.2 C82.0,844.6 85.4,844.1 89.6,843.7 C93.8,843.3 99.5,842.9 104.4,842.7 C109.4,842.4 114.3,842.3 119.3,842.2 C124.2,842.1 129.1,842.0 134.1,841.9 C139.0,841.8 144.0,841.6 148.9,841.5 C153.8,841.3 155.8,841.2 163.7,841.0 C171.6,840.9 187.7,840.9 196.0,840.5 C204.4,840.1 208.3,839.6 213.8,838.7 C219.3,837.7 224.5,837.0 229.0,835.0 C233.5,833.0 236.9,830.2 240.6,826.8 C244.3,823.5 248.0,819.2 251.4,814.9 C254.8,810.5 258.0,806.1 261.0,800.5 C264.0,794.9 266.9,788.9 269.3,781.3 C271.7,773.7 273.6,764.6 275.3,755.0 C277.0,745.4 278.3,735.0 279.4,723.8 C280.5,712.7 281.2,699.0 281.8,687.9 C282.4,676.8 282.8,662.4 283.0,657.2" fill="none" stroke="#C9E8F7" stroke-width="1.7" stroke-linejoin="round" stroke-linecap="round" />
<path d="M73.4,657.6 C73.4,674.1 73.2,736.5 73.2,756.4 C73.2,776.4 73.1,772.5 73.3,777.4 C73.6,782.4 73.8,783.2 74.8,786.1 C75.8,789.0 77.3,791.9 79.3,794.8 C81.2,797.7 83.7,800.3 86.7,803.5 C89.6,806.8 94.1,811.2 97.0,814.3 C100.0,817.5 102.0,819.9 104.4,822.4 C106.9,824.9 109.4,827.2 111.9,829.4 C114.3,831.6 116.9,833.8 119.3,835.5 C121.6,837.2 123.5,838.4 126.0,839.5 C128.5,840.6 130.3,841.3 134.1,842.1 C137.9,842.8 141.5,843.3 148.9,844.0 C156.3,844.7 166.7,845.7 178.5,846.3 C190.4,847.0 206.4,847.6 220.0,847.9 C233.6,848.2 246.7,848.1 260.0,848.3 C273.3,848.5 293.3,849.0 300.0,849.2" fill="none" stroke="#7DB56E" stroke-width="1.7" stroke-linejoin="round" stroke-linecap="round" />
<path d="M73.0,847.4 C74.1,847.0 76.5,845.8 79.3,845.2 C82.0,844.6 85.4,844.1 89.6,843.7 C93.8,843.3 99.5,842.9 104.4,842.7 C109.4,842.4 114.3,842.3 119.3,842.2 C124.2,842.1 129.1,842.0 134.1,841.9 C139.0,841.8 144.0,841.6 148.9,841.5 C153.8,841.3 155.9,841.2 163.7,841.0 C171.5,840.9 187.5,840.8 195.7,840.4 C203.9,840.0 207.4,839.5 212.7,838.6 C218.0,837.7 223.3,836.8 227.7,834.9 C232.1,832.9 235.5,830.2 239.2,826.8 C242.9,823.5 246.5,819.2 249.9,814.9 C253.3,810.5 256.5,806.1 259.5,800.5 C262.5,794.9 265.5,788.9 267.9,781.3 C270.3,773.7 272.2,764.6 273.9,755.0 C275.6,745.4 276.8,735.0 277.9,723.8 C278.9,712.7 279.7,699.0 280.3,687.9 C280.9,676.8 281.3,662.4 281.5,657.2" fill="none" stroke="#7DB56E" stroke-width="1.7" stroke-linejoin="round" stroke-linecap="round" />
<path d="M73.4,657.6 C73.4,674.0 73.2,736.2 73.2,756.1 C73.2,776.1 73.1,772.4 73.3,777.4 C73.6,782.4 73.8,783.2 74.8,786.1 C75.8,789.0 77.3,791.9 79.3,794.8 C81.2,797.7 83.7,800.3 86.7,803.6 C89.6,806.9 94.1,811.4 97.0,814.6 C100.0,817.8 102.0,820.2 104.4,822.8 C106.9,825.3 109.4,827.7 111.9,829.9 C114.3,832.0 116.9,834.3 119.3,835.9 C121.6,837.6 123.4,838.7 125.9,839.7 C128.3,840.8 130.2,841.5 134.1,842.2 C137.9,842.9 141.5,843.4 148.9,844.1 C156.3,844.8 166.7,845.8 178.5,846.4 C190.4,847.0 206.4,847.6 220.0,847.9 C233.6,848.3 246.7,848.1 260.0,848.3 C273.3,848.5 293.3,849.1 300.0,849.2" fill="none" stroke="#DADCA2" stroke-width="1.7" stroke-linejoin="round" stroke-linecap="round" />
<path d="M73.0,847.4 C74.1,847.0 76.5,845.8 79.3,845.2 C82.0,844.6 85.4,844.1 89.6,843.7 C93.8,843.3 99.5,842.9 104.4,842.7 C109.4,842.4 114.3,842.3 119.3,842.2 C124.2,842.1 129.1,842.0 134.1,841.9 C139.0,841.8 144.0,841.6 148.9,841.5 C153.8,841.3 155.9,841.2 163.7,841.0 C171.5,840.8 187.4,840.7 195.4,840.3 C203.5,839.9 206.7,839.5 212.0,838.5 C217.2,837.6 222.5,836.8 226.9,834.8 C231.3,832.9 234.5,830.2 238.2,826.8 C241.9,823.5 245.6,819.2 249.0,814.9 C252.4,810.5 255.6,806.1 258.6,800.5 C261.6,794.9 264.6,788.9 266.9,781.3 C269.3,773.7 271.3,764.6 272.9,755.0 C274.6,745.4 275.8,735.0 276.9,723.8 C277.9,712.7 278.6,699.0 279.2,687.9 C279.8,676.8 280.2,662.4 280.4,657.2" fill="none" stroke="#DADCA2" stroke-width="1.7" stroke-linejoin="round" stroke-linecap="round" />
<path d="M73.4,657.6 C73.4,673.9 73.2,735.6 73.2,755.6 C73.2,775.5 73.1,772.1 73.3,777.2 C73.6,782.3 73.8,783.1 74.8,786.0 C75.8,788.9 77.3,791.9 79.3,794.8 C81.2,797.8 83.7,800.3 86.7,803.6 C89.6,807.0 94.1,811.7 97.0,815.0 C100.0,818.3 102.0,820.9 104.4,823.5 C106.9,826.1 109.4,828.5 111.9,830.7 C114.3,832.9 117.0,835.2 119.3,836.7 C121.5,838.3 123.1,839.2 125.6,840.2 C128.0,841.1 130.2,841.7 134.1,842.4 C138.0,843.1 141.5,843.6 148.9,844.3 C156.3,844.9 166.7,845.9 178.5,846.5 C190.4,847.1 206.4,847.7 220.0,848.0 C233.6,848.4 246.7,848.2 260.0,848.5 C273.3,848.7 293.3,849.1 300.0,849.2" fill="none" stroke="#B5883D" stroke-width="1.7" stroke-linejoin="round" stroke-linecap="round" />
<path d="M73.0,847.4 C74.1,847.0 76.5,845.8 79.3,845.2 C82.0,844.6 85.4,844.1 89.6,843.7 C93.8,843.3 99.5,842.9 104.4,842.7 C109.4,842.4 114.3,842.3 119.3,842.2 C124.2,842.1 129.1,842.0 134.1,841.9 C139.0,841.8 144.0,841.6 148.9,841.5 C153.8,841.3 156.0,841.3 163.7,841.0 C171.4,840.8 187.2,840.6 195.0,840.2 C202.8,839.7 205.5,839.4 210.5,838.4 C215.6,837.5 220.9,836.6 225.2,834.7 C229.5,832.7 232.6,830.1 236.3,826.8 C239.9,823.5 243.7,819.2 247.1,814.9 C250.5,810.5 253.7,806.1 256.6,800.5 C259.6,794.9 262.6,788.9 265.0,781.3 C267.4,773.7 269.4,764.6 271.0,755.0 C272.6,745.4 273.8,735.0 274.8,723.8 C275.8,712.7 276.6,699.0 277.2,687.9 C277.8,676.8 278.2,662.4 278.4,657.2" fill="none" stroke="#B5883D" stroke-width="1.7" stroke-linejoin="round" stroke-linecap="round" />
<path d="M73.4,657.6 C73.4,673.8 73.2,734.9 73.2,754.8 C73.2,774.7 73.1,771.9 73.3,777.0 C73.6,782.2 73.8,783.0 74.8,785.9 C75.8,788.9 77.3,791.9 79.3,794.8 C81.2,797.8 83.7,800.2 86.7,803.7 C89.6,807.2 94.1,812.1 97.0,815.6 C100.0,819.0 102.0,821.7 104.4,824.4 C106.9,827.2 109.4,829.6 111.9,831.9 C114.3,834.1 117.0,836.3 119.3,837.8 C121.5,839.3 122.7,839.9 125.2,840.7 C127.7,841.6 130.1,842.0 134.1,842.7 C138.0,843.3 141.5,843.8 148.9,844.4 C156.3,845.1 166.7,846.0 178.5,846.7 C190.4,847.3 206.4,847.8 220.0,848.1 C233.6,848.5 246.7,848.4 260.0,848.6 C273.3,848.8 293.3,849.2 300.0,849.3" fill="none" stroke="#9E5226" stroke-width="1.7" stroke-linejoin="round" stroke-linecap="round" />
<path d="M73.0,847.4 C74.1,847.0 76.5,845.8 79.3,845.2 C82.0,844.6 85.4,844.1 89.6,843.7 C93.8,843.3 99.5,842.9 104.4,842.7 C109.4,842.4 114.3,842.3 119.3,842.2 C124.2,842.1 129.1,842.0 134.1,841.9 C139.0,841.8 144.0,841.6 148.9,841.5 C153.8,841.3 156.1,841.3 163.7,841.0 C171.3,840.8 186.9,840.5 194.4,840.0 C201.9,839.5 204.0,839.2 208.7,838.3 C213.5,837.4 218.9,836.4 223.1,834.5 C227.3,832.6 230.3,830.1 233.9,826.8 C237.5,823.6 241.3,819.2 244.7,814.9 C248.1,810.5 251.3,806.1 254.3,800.5 C257.2,794.9 260.2,788.9 262.6,781.3 C265.0,773.7 267.0,764.6 268.6,755.0 C270.2,745.4 271.2,735.0 272.2,723.8 C273.2,712.7 274.0,699.0 274.6,687.9 C275.2,676.8 275.6,662.4 275.8,657.2" fill="none" stroke="#9E5226" stroke-width="1.7" stroke-linejoin="round" stroke-linecap="round" />
</g>
<line x1="72.05" y1="850.00" x2="336.25" y2="850.00" stroke="#111" stroke-width="1.9"/>
<line x1="73.00" y1="850.00" x2="73.00" y2="855.00" stroke="#111" stroke-width="1.6"/>
<text x="73.0" y="871.9" font-size="18.2" text-anchor="middle" fill="#111" font-weight="bold" stroke="#111" stroke-width="0.3" >0</text>
<line x1="125.45" y1="850.00" x2="125.45" y2="855.00" stroke="#111" stroke-width="1.6"/>
<text x="125.4" y="871.9" font-size="18.2" text-anchor="middle" fill="#111" font-weight="bold" stroke="#111" stroke-width="0.3" >100</text>
<line x1="177.90" y1="850.00" x2="177.90" y2="855.00" stroke="#111" stroke-width="1.6"/>
<text x="177.9" y="871.9" font-size="18.2" text-anchor="middle" fill="#111" font-weight="bold" stroke="#111" stroke-width="0.3" >200</text>
<line x1="230.35" y1="850.00" x2="230.35" y2="855.00" stroke="#111" stroke-width="1.6"/>
<text x="230.3" y="871.9" font-size="18.2" text-anchor="middle" fill="#111" font-weight="bold" stroke="#111" stroke-width="0.3" >300</text>
<line x1="282.80" y1="850.00" x2="282.80" y2="855.00" stroke="#111" stroke-width="1.6"/>
<text x="282.8" y="871.9" font-size="18.2" text-anchor="middle" fill="#111" font-weight="bold" stroke="#111" stroke-width="0.3" >400</text>
<line x1="335.25" y1="850.00" x2="335.25" y2="855.00" stroke="#111" stroke-width="1.6"/>
<text x="335.2" y="871.9" font-size="18.2" text-anchor="middle" fill="#111" font-weight="bold" stroke="#111" stroke-width="0.3" >500</text>
<line x1="99.22" y1="850.00" x2="99.22" y2="852.80" stroke="#111" stroke-width="1.4"/>
<line x1="151.68" y1="850.00" x2="151.68" y2="852.80" stroke="#111" stroke-width="1.4"/>
<line x1="204.12" y1="850.00" x2="204.12" y2="852.80" stroke="#111" stroke-width="1.4"/>
<line x1="256.57" y1="850.00" x2="256.57" y2="852.80" stroke="#111" stroke-width="1.4"/>
<line x1="309.02" y1="850.00" x2="309.02" y2="852.80" stroke="#111" stroke-width="1.4"/>
<line x1="73.00" y1="850.00" x2="68.00" y2="850.00" stroke="#111" stroke-width="1.6"/>
<text x="67.1" y="856.4" font-size="19" text-anchor="end" fill="#111" font-weight="bold" stroke="#111" stroke-width="0.3" >0.0</text>
<line x1="73.00" y1="811.50" x2="68.00" y2="811.50" stroke="#111" stroke-width="1.6"/>
<text x="67.1" y="817.9" font-size="19" text-anchor="end" fill="#111" font-weight="bold" stroke="#111" stroke-width="0.3" >0.5</text>
<line x1="73.00" y1="773.00" x2="68.00" y2="773.00" stroke="#111" stroke-width="1.6"/>
<text x="67.1" y="779.4" font-size="19" text-anchor="end" fill="#111" font-weight="bold" stroke="#111" stroke-width="0.3" >1.0</text>
<line x1="73.00" y1="734.50" x2="68.00" y2="734.50" stroke="#111" stroke-width="1.6"/>
<text x="67.1" y="740.9" font-size="19" text-anchor="end" fill="#111" font-weight="bold" stroke="#111" stroke-width="0.3" >1.5</text>
<line x1="73.00" y1="696.00" x2="68.00" y2="696.00" stroke="#111" stroke-width="1.6"/>
<text x="67.1" y="702.4" font-size="19" text-anchor="end" fill="#111" font-weight="bold" stroke="#111" stroke-width="0.3" >2.0</text>
<line x1="73.00" y1="657.50" x2="68.00" y2="657.50" stroke="#111" stroke-width="1.6"/>
<text x="67.1" y="663.9" font-size="19" text-anchor="end" fill="#111" font-weight="bold" stroke="#111" stroke-width="0.3" >2.5</text>
<line x1="73.00" y1="830.75" x2="70.20" y2="830.75" stroke="#111" stroke-width="1.4"/>
<line x1="73.00" y1="792.25" x2="70.20" y2="792.25" stroke="#111" stroke-width="1.4"/>
<line x1="73.00" y1="753.75" x2="70.20" y2="753.75" stroke="#111" stroke-width="1.4"/>
<line x1="73.00" y1="715.25" x2="70.20" y2="715.25" stroke="#111" stroke-width="1.4"/>
<line x1="73.00" y1="676.75" x2="70.20" y2="676.75" stroke="#111" stroke-width="1.4"/>
<text x="191.2" y="897.8" font-size="24" text-anchor="middle" fill="#111" font-weight="bold" stroke="#111" stroke-width="0.3" >Specific capacity (mAh/g)</text>
<text transform="translate(35.6,744.4) rotate(-90) scale(1.0638,1)" font-size="22.56" text-anchor="middle" fill="#111" font-weight="bold" stroke="#111" stroke-width="0.3">Voltage (V)</text>
<text x="4.5" y="628.6" font-size="30" text-anchor="start" fill="#111" font-weight="bold" stroke="#111" stroke-width="0.3" >f</text>
<line x1="79.50" y1="653.00" x2="112.40" y2="653.00" stroke="#1F7FD4" stroke-width="2.0"/>
<text x="115.7" y="657.5" font-size="13.5">4<tspan font-size="8.9" dy="-5">th</tspan></text>
<line x1="79.50" y1="672.70" x2="112.40" y2="672.70" stroke="#55BFF0" stroke-width="2.0"/>
<text x="115.7" y="677.2" font-size="13.5">10<tspan font-size="8.9" dy="-5">th</tspan></text>
<line x1="79.50" y1="692.40" x2="112.40" y2="692.40" stroke="#C9E8F7" stroke-width="2.0"/>
<text x="115.7" y="696.9" font-size="13.5">20<tspan font-size="8.9" dy="-5">th</tspan></text>
<line x1="79.50" y1="712.10" x2="112.40" y2="712.10" stroke="#7DB56E" stroke-width="2.0"/>
<text x="115.7" y="716.6" font-size="13.5">30<tspan font-size="8.9" dy="-5">th</tspan></text>
<line x1="79.50" y1="731.80" x2="112.40" y2="731.80" stroke="#DADCA2" stroke-width="2.0"/>
<text x="115.7" y="736.3" font-size="13.5">50<tspan font-size="8.9" dy="-5">th</tspan></text>
<line x1="79.50" y1="751.50" x2="112.40" y2="751.50" stroke="#B5883D" stroke-width="2.0"/>
<text x="115.7" y="756.0" font-size="13.5">80<tspan font-size="8.9" dy="-5">th</tspan></text>
<line x1="79.50" y1="771.20" x2="112.40" y2="771.20" stroke="#9E5226" stroke-width="2.0"/>
<text x="115.7" y="775.7" font-size="13.5">100<tspan font-size="8.9" dy="-5">th</tspan></text>
</g>
<g id="pg">
<polyline points="422.9,678.4 431.6,678.8 440.2,679.7 448.9,680.5 457.6,681.8 466.3,694.8 475.0,698.2 483.6,700.7 492.3,702.8 501.0,704.5 509.7,748.6 518.4,751.5 527.0,752.8 535.7,753.2 544.4,753.6 553.1,799.9 561.8,802.0 570.4,802.8 579.1,803.3 587.8,803.7 596.5,812.9 605.2,813.3 613.8,813.3 622.5,813.8 631.2,813.8 639.9,693.5 648.6,694.0 657.2,694.4 665.9,695.2 674.6,695.6" fill="none" stroke="#F8A441" stroke-width="1.8" stroke-linejoin="round" />
<rect x="420.6" y="676.1" width="4.6" height="4.6" fill="#F8A441"/>
<rect x="429.3" y="676.5" width="4.6" height="4.6" fill="#F8A441"/>
<rect x="437.9" y="677.4" width="4.6" height="4.6" fill="#F8A441"/>
<rect x="446.6" y="678.2" width="4.6" height="4.6" fill="#F8A441"/>
<rect x="455.3" y="679.5" width="4.6" height="4.6" fill="#F8A441"/>
<rect x="464.0" y="692.5" width="4.6" height="4.6" fill="#F8A441"/>
<rect x="472.7" y="695.9" width="4.6" height="4.6" fill="#F8A441"/>
<rect x="481.3" y="698.4" width="4.6" height="4.6" fill="#F8A441"/>
<rect x="490.0" y="700.5" width="4.6" height="4.6" fill="#F8A441"/>
<rect x="498.7" y="702.2" width="4.6" height="4.6" fill="#F8A441"/>
<rect x="507.4" y="746.3" width="4.6" height="4.6" fill="#F8A441"/>
<rect x="516.1" y="749.2" width="4.6" height="4.6" fill="#F8A441"/>
<rect x="524.7" y="750.5" width="4.6" height="4.6" fill="#F8A441"/>
<rect x="533.4" y="750.9" width="4.6" height="4.6" fill="#F8A441"/>
<rect x="542.1" y="751.3" width="4.6" height="4.6" fill="#F8A441"/>
<rect x="550.8" y="797.6" width="4.6" height="4.6" fill="#F8A441"/>
<rect x="559.5" y="799.7" width="4.6" height="4.6" fill="#F8A441"/>
<rect x="568.1" y="800.5" width="4.6" height="4.6" fill="#F8A441"/>
<rect x="576.8" y="801.0" width="4.6" height="4.6" fill="#F8A441"/>
<rect x="585.5" y="801.4" width="4.6" height="4.6" fill="#F8A441"/>
<rect x="594.2" y="810.6" width="4.6" height="4.6" fill="#F8A441"/>
<rect x="602.9" y="811.0" width="4.6" height="4.6" fill="#F8A441"/>
<rect x="611.5" y="811.0" width="4.6" height="4.6" fill="#F8A441"/>
<rect x="620.2" y="811.5" width="4.6" height="4.6" fill="#F8A441"/>
<rect x="628.9" y="811.5" width="4.6" height="4.6" fill="#F8A441"/>
<rect x="637.6" y="691.2" width="4.6" height="4.6" fill="#F8A441"/>
<rect x="646.3" y="691.7" width="4.6" height="4.6" fill="#F8A441"/>
<rect x="654.9" y="692.1" width="4.6" height="4.6" fill="#F8A441"/>
<rect x="663.6" y="692.9" width="4.6" height="4.6" fill="#F8A441"/>
<rect x="672.3" y="693.3" width="4.6" height="4.6" fill="#F8A441"/>
<polyline points="422.9,659.9 431.6,657.0 440.2,656.1 448.9,656.1 457.6,657.0 466.3,670.0 475.0,674.2 483.6,676.3 492.3,678.0 501.0,678.8 509.7,729.3 518.4,730.9 527.0,731.4 535.7,732.2 544.4,732.2 553.1,789.8 561.8,791.9 570.4,792.7 579.1,793.2 587.8,793.6 596.5,808.3 605.2,808.3 613.8,808.7 622.5,808.7 631.2,808.7 639.9,664.1 648.6,663.7 657.2,663.7 665.9,664.1 674.6,664.5" fill="none" stroke="#16908A" stroke-width="1.8" stroke-linejoin="round" />
<circle cx="422.9" cy="659.9" r="2.5" fill="#16908A"/>
<circle cx="431.6" cy="657.0" r="2.5" fill="#16908A"/>
<circle cx="440.2" cy="656.1" r="2.5" fill="#16908A"/>
<circle cx="448.9" cy="656.1" r="2.5" fill="#16908A"/>
<circle cx="457.6" cy="657.0" r="2.5" fill="#16908A"/>
<circle cx="466.3" cy="670.0" r="2.5" fill="#16908A"/>
<circle cx="475.0" cy="674.2" r="2.5" fill="#16908A"/>
<circle cx="483.6" cy="676.3" r="2.5" fill="#16908A"/>
<circle cx="492.3" cy="678.0" r="2.5" fill="#16908A"/>
<circle cx="501.0" cy="678.8" r="2.5" fill="#16908A"/>
<circle cx="509.7" cy="729.3" r="2.5" fill="#16908A"/>
<circle cx="518.4" cy="730.9" r="2.5" fill="#16908A"/>
<circle cx="527.0" cy="731.4" r="2.5" fill="#16908A"/>
<circle cx="535.7" cy="732.2" r="2.5" fill="#16908A"/>
<circle cx="544.4" cy="732.2" r="2.5" fill="#16908A"/>
<circle cx="553.1" cy="789.8" r="2.5" fill="#16908A"/>
<circle cx="561.8" cy="791.9" r="2.5" fill="#16908A"/>
<circle cx="570.4" cy="792.7" r="2.5" fill="#16908A"/>
<circle cx="579.1" cy="793.2" r="2.5" fill="#16908A"/>
<circle cx="587.8" cy="793.6" r="2.5" fill="#16908A"/>
<circle cx="596.5" cy="808.3" r="2.5" fill="#16908A"/>
<circle cx="605.2" cy="808.3" r="2.5" fill="#16908A"/>
<circle cx="613.8" cy="808.7" r="2.5" fill="#16908A"/>
<circle cx="622.5" cy="808.7" r="2.5" fill="#16908A"/>
<circle cx="631.2" cy="808.7" r="2.5" fill="#16908A"/>
<circle cx="639.9" cy="664.1" r="2.5" fill="#16908A"/>
<circle cx="648.6" cy="663.7" r="2.5" fill="#16908A"/>
<circle cx="657.2" cy="663.7" r="2.5" fill="#16908A"/>
<circle cx="665.9" cy="664.1" r="2.5" fill="#16908A"/>
<circle cx="674.6" cy="664.5" r="2.5" fill="#16908A"/>
<rect x="414.20" y="639.30" width="260.40" height="210.20" fill="none" stroke="#111" stroke-width="1.9"/>
<line x1="414.20" y1="849.50" x2="414.20" y2="854.50" stroke="#111" stroke-width="1.6"/>
<text x="414.2" y="870.3" font-size="17.6" text-anchor="middle" fill="#111" font-weight="bold" stroke="#111" stroke-width="0.3" >0</text>
<line x1="457.60" y1="849.50" x2="457.60" y2="854.50" stroke="#111" stroke-width="1.6"/>
<text x="457.6" y="870.3" font-size="17.6" text-anchor="middle" fill="#111" font-weight="bold" stroke="#111" stroke-width="0.3" >5</text>
<line x1="501.00" y1="849.50" x2="501.00" y2="854.50" stroke="#111" stroke-width="1.6"/>
<text x="501.0" y="870.3" font-size="17.6" text-anchor="middle" fill="#111" font-weight="bold" stroke="#111" stroke-width="0.3" >10</text>
<line x1="544.40" y1="849.50" x2="544.40" y2="854.50" stroke="#111" stroke-width="1.6"/>
<text x="544.4" y="870.3" font-size="17.6" text-anchor="middle" fill="#111" font-weight="bold" stroke="#111" stroke-width="0.3" >15</text>
<line x1="587.80" y1="849.50" x2="587.80" y2="854.50" stroke="#111" stroke-width="1.6"/>
<text x="587.8" y="870.3" font-size="17.6" text-anchor="middle" fill="#111" font-weight="bold" stroke="#111" stroke-width="0.3" >20</text>
<line x1="631.20" y1="849.50" x2="631.20" y2="854.50" stroke="#111" stroke-width="1.6"/>
<text x="631.2" y="870.3" font-size="17.6" text-anchor="middle" fill="#111" font-weight="bold" stroke="#111" stroke-width="0.3" >25</text>
<line x1="674.60" y1="849.50" x2="674.60" y2="854.50" stroke="#111" stroke-width="1.6"/>
<text x="674.6" y="870.3" font-size="17.6" text-anchor="middle" fill="#111" font-weight="bold" stroke="#111" stroke-width="0.3" >30</text>
<line x1="435.90" y1="849.50" x2="435.90" y2="852.30" stroke="#111" stroke-width="1.4"/>
<line x1="479.30" y1="849.50" x2="479.30" y2="852.30" stroke="#111" stroke-width="1.4"/>
<line x1="522.70" y1="849.50" x2="522.70" y2="852.30" stroke="#111" stroke-width="1.4"/>
<line x1="566.10" y1="849.50" x2="566.10" y2="852.30" stroke="#111" stroke-width="1.4"/>
<line x1="609.50" y1="849.50" x2="609.50" y2="852.30" stroke="#111" stroke-width="1.4"/>
<line x1="652.90" y1="849.50" x2="652.90" y2="852.30" stroke="#111" stroke-width="1.4"/>
<line x1="414.20" y1="849.50" x2="409.20" y2="849.50" stroke="#111" stroke-width="1.6"/>
<text x="406.7" y="855.4" font-size="17.6" text-anchor="end" fill="#111" font-weight="bold" stroke="#111" stroke-width="0.3" >0</text>
<line x1="414.20" y1="807.46" x2="409.20" y2="807.46" stroke="#111" stroke-width="1.6"/>
<text x="406.7" y="813.4" font-size="17.6" text-anchor="end" fill="#111" font-weight="bold" stroke="#111" stroke-width="0.3" >100</text>
<line x1="414.20" y1="765.42" x2="409.20" y2="765.42" stroke="#111" stroke-width="1.6"/>
<text x="406.7" y="771.3" font-size="17.6" text-anchor="end" fill="#111" font-weight="bold" stroke="#111" stroke-width="0.3" >200</text>
<line x1="414.20" y1="723.38" x2="409.20" y2="723.38" stroke="#111" stroke-width="1.6"/>
<text x="406.7" y="729.3" font-size="17.6" text-anchor="end" fill="#111" font-weight="bold" stroke="#111" stroke-width="0.3" >300</text>
<line x1="414.20" y1="681.34" x2="409.20" y2="681.34" stroke="#111" stroke-width="1.6"/>
<text x="406.7" y="687.2" font-size="17.6" text-anchor="end" fill="#111" font-weight="bold" stroke="#111" stroke-width="0.3" >400</text>
<line x1="414.20" y1="639.30" x2="409.20" y2="639.30" stroke="#111" stroke-width="1.6"/>
<text x="406.7" y="645.2" font-size="17.6" text-anchor="end" fill="#111" font-weight="bold" stroke="#111" stroke-width="0.3" >500</text>
<line x1="414.20" y1="828.48" x2="411.40" y2="828.48" stroke="#111" stroke-width="1.4"/>
<line x1="414.20" y1="786.44" x2="411.40" y2="786.44" stroke="#111" stroke-width="1.4"/>
<line x1="414.20" y1="744.40" x2="411.40" y2="744.40" stroke="#111" stroke-width="1.4"/>
<line x1="414.20" y1="702.36" x2="411.40" y2="702.36" stroke="#111" stroke-width="1.4"/>
<line x1="414.20" y1="660.32" x2="411.40" y2="660.32" stroke="#111" stroke-width="1.4"/>
<text x="544.2" y="902.9" font-size="23.4" text-anchor="middle" fill="#111" font-weight="bold" stroke="#111" stroke-width="0.3" >Cycle number</text>
<text transform="translate(371.5,744.5) rotate(-90) scale(1.0638,1)" font-size="22.00" text-anchor="middle" fill="#111" font-weight="bold" stroke="#111" stroke-width="0.3">Specific capacity (mAh/g)</text>
<text x="331.0" y="630.5" font-size="29" text-anchor="start" fill="#111" font-weight="bold" stroke="#111" stroke-width="0.3" >g</text>
<text x="423.2" y="654.0" font-size="16" text-anchor="start" fill="#111" font-weight="bold" stroke="#111" stroke-width="0.3" >0.03</text>
<text x="476.5" y="673.2" font-size="16" text-anchor="start" fill="#111" font-weight="bold" stroke="#111" stroke-width="0.3" >0.05</text>
<text x="519.6" y="728.5" font-size="16" text-anchor="start" fill="#111" font-weight="bold" stroke="#111" stroke-width="0.3" >0.1</text>
<text x="564.0" y="788.8" font-size="16" text-anchor="start" fill="#111" font-weight="bold" stroke="#111" stroke-width="0.3" >0.2</text>
<text x="607.4" y="807.2" font-size="16" text-anchor="start" fill="#111" font-weight="bold" stroke="#111" stroke-width="0.3" >0.3</text>
<text x="646.7" y="657.7" font-size="12.5" text-anchor="start" fill="#111" font-weight="bold" stroke="#111" stroke-width="0.3" >0.03</text>
<text x="419.4" y="832.9" stroke="#111" stroke-width="0.3" font-size="16">Unit: A g<tspan font-size="10.5" dy="-6">-1</tspan></text>
<line x1="527.90" y1="654.00" x2="564.00" y2="654.00" stroke="#F8A441" stroke-width="1.8"/>
<rect x="543.6" y="651.7" width="4.6" height="4.6" fill="#F8A441"/>
<text x="569.0" y="659.3" font-size="15.7" text-anchor="start" fill="#111" font-weight="bold" stroke="#111" stroke-width="0.3" >opt-HC</text>
<line x1="527.90" y1="674.30" x2="564.00" y2="674.30" stroke="#16908A" stroke-width="1.8"/>
<circle cx="546" cy="674.3" r="2.5" fill="#16908A"/>
<text x="569.0" y="679.6" font-size="15.7" text-anchor="start" fill="#111" font-weight="bold" stroke="#111" stroke-width="0.3" >HC-2</text>
</g>
<g id="ph">
<defs><linearGradient id="hg" x1="0" y1="1" x2="1" y2="0"><stop offset="0" stop-color="#FDEBC6"/><stop offset="0.5" stop-color="#FCDFD0"/><stop offset="1" stop-color="#F9CDD2"/></linearGradient></defs>
<rect x="797.6" y="639.1" width="265.0" height="214.5" fill="url(#hg)"/>
<rect x="809.8" y="645.2" width="6.0" height="6.0" fill="#4D4D4D"/>
<text x="826.8" y="652.2" font-size="12" text-anchor="start" fill="#111" font-weight="bold" stroke="#111" stroke-width="0.3" >CMAC-2</text>
<rect x="1027.1" y="767.8" width="6.0" height="6.0" fill="#4D4D4D"/>
<polygon points="812.8,658.5 817.4,666.4 808.2,666.4" fill="#2B6FE0"/>
<text x="830.2" y="667.8" font-size="12" text-anchor="start" fill="#111" font-weight="bold" stroke="#111" stroke-width="0.3" >H-1500</text>
<polygon points="846.6,738.0 851.2,745.9 842.1,745.9" fill="#2B6FE0"/>
<polygon points="812.8,675.0 817.1,679.3 812.8,683.6 808.5,679.3" fill="#A674E8"/>
<text x="830.2" y="683.3" font-size="12" text-anchor="start" fill="#111" font-weight="bold" stroke="#111" stroke-width="0.3" >HC-CS-A/PEO</text>
<polygon points="984.0,757.3 988.3,761.7 984.0,766.0 979.7,761.7" fill="#A674E8"/>
<polygon points="818.1,694.6 810.2,699.2 810.2,690.0" fill="#1CC7C1"/>
<text x="830.2" y="698.6" font-size="12" text-anchor="start" fill="#111" font-weight="bold" stroke="#111" stroke-width="0.3" >PZHC 450-1200</text>
<polygon points="1031.5,780.1 1023.5,784.6 1023.5,775.5" fill="#1CC7C1"/>
<polygon points="812.8,705.9 817.1,710.2 812.8,714.5 808.5,710.2" fill="#FBF6E0" stroke="#8C8A1E" stroke-width="0.9"/>
<polygon points="812.8,705.9 817.1,710.2 812.8,714.5" fill="#8C8A1E"/>
<text x="830.2" y="714.2" font-size="12" text-anchor="start" fill="#111" font-weight="bold" stroke="#111" stroke-width="0.3" >FC-3h-1300</text>
<polygon points="951.6,706.2 955.9,710.5 951.6,714.8 947.3,710.5" fill="#FBF6E0" stroke="#8C8A1E" stroke-width="0.9"/>
<polygon points="951.6,706.2 955.9,710.5 951.6,714.8" fill="#8C8A1E"/>
<circle cx="812.8" cy="725.5" r="3.3" fill="#4A8FD6"/>
<circle cx="811.8" cy="724.5" r="1.5" fill="#BFDDF5"/>
<text x="830.2" y="729.5" font-size="12" text-anchor="start" fill="#111" font-weight="bold" stroke="#111" stroke-width="0.3" >CAC-1300</text>
<circle cx="967.3" cy="787.4" r="3.3" fill="#4A8FD6"/>
<circle cx="966.3" cy="786.4" r="1.5" fill="#BFDDF5"/>
<circle cx="937.0" cy="648.2" r="3.5" fill="#E8504F"/>
<text x="953.3" y="652.2" font-size="12" text-anchor="start" fill="#111" font-weight="bold" stroke="#111" stroke-width="0.3" >CM-180</text>
<circle cx="929.1" cy="775.8" r="3.5" fill="#E8504F"/>
<polygon points="937.0,669.1 932.4,661.2 941.6,661.2" fill="#27AE68"/>
<text x="953.3" y="667.8" font-size="12" text-anchor="start" fill="#111" font-weight="bold" stroke="#111" stroke-width="0.3" >N/O-HC-1200</text>
<polygon points="960.4,786.6 955.9,778.6 965.0,778.6" fill="#27AE68"/>
<polygon points="931.7,679.3 939.6,674.7 939.6,683.9" fill="#C9950C"/>
<text x="953.3" y="683.3" font-size="12" text-anchor="start" fill="#111" font-weight="bold" stroke="#111" stroke-width="0.3" >PNDCs-1200</text>
<polygon points="824.7,780.1 832.6,775.5 832.6,784.6" fill="#C9950C"/>
<polygon points="940.5,696.6 937.0,698.6 933.5,696.6 933.5,692.6 937.0,690.6 940.5,692.6" fill="#70484A"/>
<text x="953.3" y="698.6" font-size="12" text-anchor="start" fill="#111" font-weight="bold" stroke="#111" stroke-width="0.3" >PCS@V@C</text>
<polygon points="1000.2,845.2 996.7,847.2 993.3,845.2 993.3,841.2 996.7,839.2 1000.2,841.2" fill="#70484A"/>
<polygon points="937.0,706.0 941.0,708.9 939.5,713.6 934.5,713.6 933.0,708.9" fill="#F47A20"/>
<text x="953.3" y="714.2" font-size="12" text-anchor="start" fill="#111" font-weight="bold" stroke="#111" stroke-width="0.3" >PCLC-1</text>
<polygon points="996.7,781.4 1000.7,784.3 999.2,789.0 994.3,789.0 992.7,784.3" fill="#F47A20"/>
<polygon points="937.0,717.5 938.9,722.9 944.6,723.0 940.0,726.5 941.7,731.9 937.0,728.7 932.3,731.9 934.0,726.5 929.4,723.0 935.1,722.9" fill="#F5161E"/>
<text x="953.3" y="729.5" font-size="12" text-anchor="start" fill="#111" font-weight="bold" stroke="#111" stroke-width="0.3" >This work</text>
<polygon points="1045.8,690.8 1048.2,697.7 1055.5,697.8 1049.7,702.2 1051.8,709.2 1045.8,705.1 1039.8,709.2 1041.9,702.2 1036.1,697.8 1043.4,697.7" fill="#F5161E"/>
<rect x="797.60" y="639.10" width="265.00" height="214.50" fill="none" stroke="#111" stroke-width="1.9"/>
<line x1="797.60" y1="853.60" x2="797.60" y2="858.60" stroke="#111" stroke-width="1.6"/>
<text x="797.6" y="875.1" font-size="18.6" text-anchor="middle" fill="#111" font-weight="bold" stroke="#111" stroke-width="0.3" >65</text>
<line x1="846.65" y1="853.60" x2="846.65" y2="858.60" stroke="#111" stroke-width="1.6"/>
<text x="846.6" y="875.1" font-size="18.6" text-anchor="middle" fill="#111" font-weight="bold" stroke="#111" stroke-width="0.3" >70</text>
<line x1="895.70" y1="853.60" x2="895.70" y2="858.60" stroke="#111" stroke-width="1.6"/>
<text x="895.7" y="875.1" font-size="18.6" text-anchor="middle" fill="#111" font-weight="bold" stroke="#111" stroke-width="0.3" >75</text>
<line x1="944.75" y1="853.60" x2="944.75" y2="858.60" stroke="#111" stroke-width="1.6"/>
<text x="944.8" y="875.1" font-size="18.6" text-anchor="middle" fill="#111" font-weight="bold" stroke="#111" stroke-width="0.3" >80</text>
<line x1="993.80" y1="853.60" x2="993.80" y2="858.60" stroke="#111" stroke-width="1.6"/>
<text x="993.8" y="875.1" font-size="18.6" text-anchor="middle" fill="#111" font-weight="bold" stroke="#111" stroke-width="0.3" >85</text>
<line x1="1042.85" y1="853.60" x2="1042.85" y2="858.60" stroke="#111" stroke-width="1.6"/>
<text x="1042.8" y="875.1" font-size="18.6" text-anchor="middle" fill="#111" font-weight="bold" stroke="#111" stroke-width="0.3" >90</text>
<line x1="822.12" y1="853.60" x2="822.12" y2="856.40" stroke="#111" stroke-width="1.4"/>
<line x1="871.18" y1="853.60" x2="871.18" y2="856.40" stroke="#111" stroke-width="1.4"/>
<line x1="920.23" y1="853.60" x2="920.23" y2="856.40" stroke="#111" stroke-width="1.4"/>
<line x1="969.28" y1="853.60" x2="969.28" y2="856.40" stroke="#111" stroke-width="1.4"/>
<line x1="1018.33" y1="853.60" x2="1018.33" y2="856.40" stroke="#111" stroke-width="1.4"/>
<line x1="797.60" y1="853.60" x2="792.60" y2="853.60" stroke="#111" stroke-width="1.6"/>
<text x="790.0" y="859.6" font-size="17.9" text-anchor="end" fill="#111" font-weight="bold" stroke="#111" stroke-width="0.3" >200</text>
<line x1="797.60" y1="822.96" x2="792.60" y2="822.96" stroke="#111" stroke-width="1.6"/>
<text x="790.0" y="829.0" font-size="17.9" text-anchor="end" fill="#111" font-weight="bold" stroke="#111" stroke-width="0.3" >250</text>
<line x1="797.60" y1="792.31" x2="792.60" y2="792.31" stroke="#111" stroke-width="1.6"/>
<text x="790.0" y="798.3" font-size="17.9" text-anchor="end" fill="#111" font-weight="bold" stroke="#111" stroke-width="0.3" >300</text>
<line x1="797.60" y1="761.66" x2="792.60" y2="761.66" stroke="#111" stroke-width="1.6"/>
<text x="790.0" y="767.7" font-size="17.9" text-anchor="end" fill="#111" font-weight="bold" stroke="#111" stroke-width="0.3" >350</text>
<line x1="797.60" y1="731.02" x2="792.60" y2="731.02" stroke="#111" stroke-width="1.6"/>
<text x="790.0" y="737.0" font-size="17.9" text-anchor="end" fill="#111" font-weight="bold" stroke="#111" stroke-width="0.3" >400</text>
<line x1="797.60" y1="700.38" x2="792.60" y2="700.38" stroke="#111" stroke-width="1.6"/>
<text x="790.0" y="706.4" font-size="17.9" text-anchor="end" fill="#111" font-weight="bold" stroke="#111" stroke-width="0.3" >450</text>
<line x1="797.60" y1="669.73" x2="792.60" y2="669.73" stroke="#111" stroke-width="1.6"/>
<text x="790.0" y="675.7" font-size="17.9" text-anchor="end" fill="#111" font-weight="bold" stroke="#111" stroke-width="0.3" >500</text>
<line x1="797.60" y1="639.09" x2="792.60" y2="639.09" stroke="#111" stroke-width="1.6"/>
<text x="790.0" y="645.1" font-size="17.9" text-anchor="end" fill="#111" font-weight="bold" stroke="#111" stroke-width="0.3" >550</text>
<line x1="797.60" y1="838.28" x2="794.80" y2="838.28" stroke="#111" stroke-width="1.4"/>
<line x1="797.60" y1="807.63" x2="794.80" y2="807.63" stroke="#111" stroke-width="1.4"/>
<line x1="797.60" y1="776.99" x2="794.80" y2="776.99" stroke="#111" stroke-width="1.4"/>
<line x1="797.60" y1="746.34" x2="794.80" y2="746.34" stroke="#111" stroke-width="1.4"/>
<line x1="797.60" y1="715.70" x2="794.80" y2="715.70" stroke="#111" stroke-width="1.4"/>
<line x1="797.60" y1="685.05" x2="794.80" y2="685.05" stroke="#111" stroke-width="1.4"/>
<line x1="797.60" y1="654.41" x2="794.80" y2="654.41" stroke="#111" stroke-width="1.4"/>
<text x="929.5" y="908.0" font-size="24" text-anchor="middle" fill="#111" font-weight="bold" stroke="#111" stroke-width="0.3" >ICE (%)</text>
<text transform="translate(755.3,746.5) rotate(-90) scale(1.0638,1)" font-size="22.65" text-anchor="middle" fill="#111" font-weight="bold" stroke="#111" stroke-width="0.3">Specific capacity (mAh/g)</text>
<text x="720.5" y="629.9" font-size="29" text-anchor="start" fill="#111" font-weight="bold" stroke="#111" stroke-width="0.3" >h</text>
</g>
</svg>
</body></html>
